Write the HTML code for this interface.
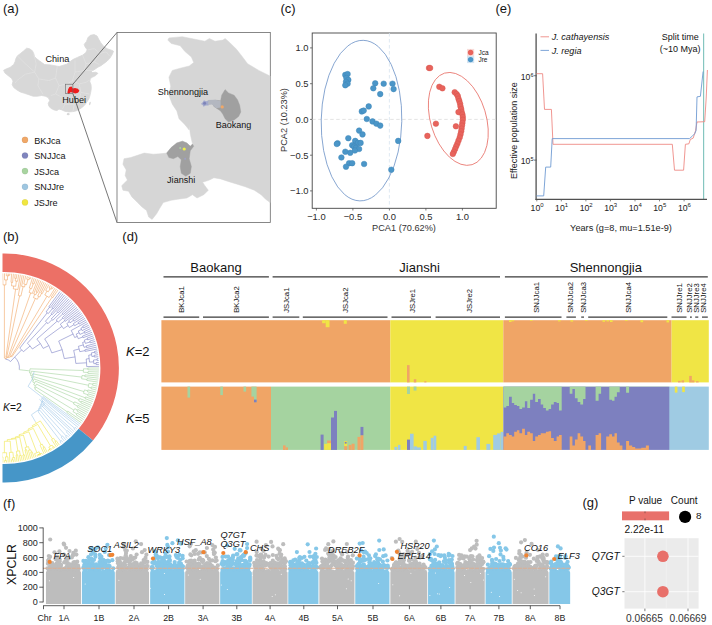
<!DOCTYPE html>
<html><head><meta charset="utf-8"><title>Figure</title>
<style>html,body{margin:0;padding:0;background:#fff}svg{display:block}text{font-family:"Liberation Sans",sans-serif}</style>
</head><body>
<svg width="712" height="625" viewBox="0 0 712 625">
<rect width="712" height="625" fill="#fff"/>
<text x="3.0" y="13.2" font-size="13" text-anchor="start" fill="#141414"  >(a)</text>
<text x="280.5" y="13.2" font-size="13" text-anchor="start" fill="#141414"  >(c)</text>
<text x="495.5" y="13.2" font-size="13" text-anchor="start" fill="#141414"  >(e)</text>
<text x="3.0" y="241.0" font-size="13" text-anchor="start" fill="#141414"  >(b)</text>
<text x="122.3" y="241.0" font-size="13" text-anchor="start" fill="#141414"  >(d)</text>
<text x="3.0" y="507.5" font-size="13" text-anchor="start" fill="#141414"  >(f)</text>
<text x="582.5" y="507.3" font-size="13" text-anchor="start" fill="#141414"  >(g)</text>
<clipPath id="cc"><polygon points="3.6,70.3 6.5,68.8 10.1,67.4 13.7,64.5 15.1,61.6 15.8,58.8 17.3,55.9 20.2,53.7 23.8,50.8 26.6,48.2 29.5,48.7 32.4,50.8 33.8,53.7 34.5,56.6 36.7,58.8 39.6,60.9 42.5,63.1 44.6,64.5 50.4,64.9 59.1,66.5 66.7,64.2 72.8,59.6 77.4,57.4 82.7,55.1 85.7,52.8 87.2,49.8 85.0,46.7 84.2,44.4 86.5,41.4 88.0,37.6 90.3,35.3 94.1,34.6 97.1,36.1 98.6,39.1 100.9,42.9 104.0,46.7 107.8,49.0 112.3,50.5 113.5,51.3 112.3,54.3 110.0,58.1 107.0,61.2 104.0,63.4 100.9,65.7 97.9,67.2 95.6,68.8 93.3,70.3 91.0,71.0 92.6,72.6 95.6,72.2 97.9,73.3 95.6,75.6 92.6,77.1 90.3,78.6 89.8,81.7 91.0,84.7 91.3,88.5 90.7,92.3 89.8,96.1 88.8,99.1 87.2,101.4 85.5,104.0 82.7,107.0 79.0,109.5 75.8,111.0 72.8,111.6 69.0,111.9 64.8,111.3 61.9,109.9 59.0,109.1 56.9,110.6 54.0,109.9 51.1,108.4 48.9,106.3 48.2,103.4 49.7,100.5 48.2,97.6 45.3,96.2 41.7,95.5 37.4,96.2 33.1,96.2 28.8,94.7 24.5,93.3 20.2,91.9 16.6,89.7 13.7,87.5 12.2,84.7 13.0,81.1 11.5,78.2 8.6,76.0 5.0,73.1"/></clipPath>
<polygon fill="#d8d8d8" stroke="#d8d8d8" stroke-width="0.8" stroke-linejoin="round" points="3.6,70.3 6.5,68.8 10.1,67.4 13.7,64.5 15.1,61.6 15.8,58.8 17.3,55.9 20.2,53.7 23.8,50.8 26.6,48.2 29.5,48.7 32.4,50.8 33.8,53.7 34.5,56.6 36.7,58.8 39.6,60.9 42.5,63.1 44.6,64.5 50.4,64.9 59.1,66.5 66.7,64.2 72.8,59.6 77.4,57.4 82.7,55.1 85.7,52.8 87.2,49.8 85.0,46.7 84.2,44.4 86.5,41.4 88.0,37.6 90.3,35.3 94.1,34.6 97.1,36.1 98.6,39.1 100.9,42.9 104.0,46.7 107.8,49.0 112.3,50.5 113.5,51.3 112.3,54.3 110.0,58.1 107.0,61.2 104.0,63.4 100.9,65.7 97.9,67.2 95.6,68.8 93.3,70.3 91.0,71.0 92.6,72.6 95.6,72.2 97.9,73.3 95.6,75.6 92.6,77.1 90.3,78.6 89.8,81.7 91.0,84.7 91.3,88.5 90.7,92.3 89.8,96.1 88.8,99.1 87.2,101.4 85.5,104.0 82.7,107.0 79.0,109.5 75.8,111.0 72.8,111.6 69.0,111.9 64.8,111.3 61.9,109.9 59.0,109.1 56.9,110.6 54.0,109.9 51.1,108.4 48.9,106.3 48.2,103.4 49.7,100.5 48.2,97.6 45.3,96.2 41.7,95.5 37.4,96.2 33.1,96.2 28.8,94.7 24.5,93.3 20.2,91.9 16.6,89.7 13.7,87.5 12.2,84.7 13.0,81.1 11.5,78.2 8.6,76.0 5.0,73.1"/>
<ellipse cx="68.2" cy="114.2" rx="1.5" ry="1.1" fill="#d8d8d8"/>
<ellipse cx="89.9" cy="103.4" rx="0.8" ry="1.8" fill="#d8d8d8" transform="rotate(15 89.9 103.4)"/>
<g clip-path="url(#cc)">
<polyline fill="none" stroke="#e9e9e9" stroke-width="0.45" points="33.7,54.4 36.2,63.7 34.6,72.1 38.8,78.9 37.9,85.6 43.0,94.4"/>
<polyline fill="none" stroke="#e9e9e9" stroke-width="0.45" points="34.6,72.1 25.3,74.2 16.9,80.6 15.2,83.1"/>
<polyline fill="none" stroke="#e9e9e9" stroke-width="0.45" points="38.8,78.9 48.9,80.6 55.6,78.0 57.3,66.2"/>
<polyline fill="none" stroke="#e9e9e9" stroke-width="0.45" points="55.6,78.0 59.0,85.6 55.6,94.0 50.6,95.7"/>
<polyline fill="none" stroke="#e9e9e9" stroke-width="0.45" points="59.0,85.6 67.4,83.9 72.5,80.6 75.0,72.1 75.0,60.3"/>
<polyline fill="none" stroke="#e9e9e9" stroke-width="0.45" points="72.5,80.6 79.2,83.9 86.0,82.3 94.4,77.2"/>
<polyline fill="none" stroke="#e9e9e9" stroke-width="0.45" points="79.2,83.9 80.9,92.4 79.2,100.8 74.2,104.2 72.5,114.3"/>
<polyline fill="none" stroke="#e9e9e9" stroke-width="0.45" points="80.9,92.4 89.3,94.0 98.6,94.0"/>
<polyline fill="none" stroke="#e9e9e9" stroke-width="0.45" points="79.2,100.8 87.6,102.5 91.0,105.0"/>
<polyline fill="none" stroke="#e9e9e9" stroke-width="0.45" points="55.6,94.0 62.4,97.4 64.9,104.2 62.4,109.2"/>
<polyline fill="none" stroke="#e9e9e9" stroke-width="0.45" points="64.9,104.2 74.2,104.2"/>
<polyline fill="none" stroke="#e9e9e9" stroke-width="0.45" points="75.0,72.1 84.3,70.5 92.7,70.5"/>
<polyline fill="none" stroke="#e9e9e9" stroke-width="0.45" points="84.3,70.5 86.0,63.7 94.4,62.0 99.4,64.6"/>
<polyline fill="none" stroke="#e9e9e9" stroke-width="0.45" points="86.0,63.7 82.6,55.3"/>
<polyline fill="none" stroke="#e9e9e9" stroke-width="0.45" points="94.4,62.0 99.4,53.6 106.2,51.9 109.6,56.1"/>
<polyline fill="none" stroke="#e9e9e9" stroke-width="0.45" points="99.4,53.6 94.4,48.5 87.6,49.9"/>
<polyline fill="none" stroke="#e9e9e9" stroke-width="0.45" points="16.9,55.3 25.3,63.7 34.6,72.1"/>
</g>
<polygon fill="#ee1c1c" points="67.4,92.7 68.1,89.3 69.4,87.0 71.6,86.5 72.8,88.5 75.0,88.0 77.9,88.8 79.4,90.7 78.0,92.7 75.2,93.5 72.5,92.5 70.5,92.2 68.8,93.9"/>
<rect x="65.3" y="84.2" width="7.6" height="9.3" fill="none" stroke="#666" stroke-width="0.6"/>
<line x1="72.9" y1="84.2" x2="117" y2="32.5" stroke="#4a4a4a" stroke-width="0.75"/>
<line x1="72.9" y1="93.5" x2="117" y2="222.5" stroke="#4a4a4a" stroke-width="0.75"/>
<text x="45.5" y="62.0" font-size="9.1" text-anchor="start" fill="#141414"  >China</text>
<text x="62.3" y="102.8" font-size="9.1" text-anchor="start" fill="#141414"  >Hubei</text>
<rect x="117" y="32.5" width="153.3" height="190" fill="#fff" stroke="#6a6a6a" stroke-width="0.8"/>
<polygon fill="#d6d6d6" stroke="#d6d6d6" stroke-width="0.5" stroke-linejoin="round" points="167.8,40.1 168.9,37.9 182.4,36.7 193.7,39.0 204.9,41.2 209.4,38.5 215.0,41.2 222.9,40.1 225.1,38.5 229.6,42.4 236.3,49.1 240.8,54.7 247.6,63.7 258.8,70.4 270.1,76.1 270.1,202.5 265.6,199.2 261.1,194.7 254.3,190.2 245.3,186.8 236.3,183.9 227.4,181.2 220.6,178.9 213.9,177.8 209.4,180.1 202.6,182.3 204.9,185.7 208.3,190.2 203.8,194.7 197.0,198.0 192.5,194.7 186.9,198.0 177.9,199.2 171.2,200.3 163.3,202.5 159.9,208.1 156.6,213.8 152.1,219.4 148.7,217.1 146.5,210.4 142.0,207.0 137.5,202.5 131.9,196.9 128.5,191.3 122.9,190.2 121.7,185.7 127.4,180.1 125.1,175.6 126.2,169.9 122.9,164.3 124.0,158.7 130.7,157.6 137.5,155.3 144.2,153.1 153.2,154.2 159.9,153.8 166.7,153.1 171.2,147.5 176.8,143.0 182.4,141.2 186.9,143.0 190.3,146.3 192.5,144.1 190.3,134.0 189.2,125.0 189.2,130.0 184.7,124.4 179.0,118.8 176.8,110.9 172.3,104.2 168.9,95.2 170.7,86.2 168.9,77.2 172.3,70.4 180.2,68.2 189.2,66.0 193.7,62.6 191.4,57.0 184.7,51.3 180.2,45.7 171.2,43.5"/>
<polygon fill="#a0a0a0" stroke="#a0a0a0" stroke-width="0.4" stroke-linejoin="round" points="166.7,153.1 171.2,147.5 176.8,143.0 182.4,141.2 186.9,143.0 190.3,146.3 192.5,144.1 193.7,146.3 190.3,150.8 189.2,158.7 191.4,166.6 190.3,173.3 185.8,176.2 181.3,173.3 180.2,166.6 181.3,159.8 177.9,156.5 173.4,158.7 168.9,157.6"/>
<polygon fill="#a0a0a0" stroke="#a0a0a0" stroke-width="0.4" stroke-linejoin="round" points="221.7,95.2 225.1,89.6 228.5,92.9 234.1,95.2 237.5,99.7 239.7,105.3 240.8,112.0 238.6,116.5 234.1,119.9 228.5,122.1 225.1,118.8 222.9,114.3 220.6,110.9 217.2,108.7 213.9,106.4 211.6,101.9 215.0,100.1 220.6,100.8"/>
<polygon fill="#b3b7c0" points="207.6,100.1 215.0,99.7 220.6,101.0 220.6,107.5 216.1,108.2 212.1,104.6 208.0,105.1"/>
<path d="M200.9,104.1 L202.7,102.3 L203.9,100.3 L206.1,101.3 L208.5,100.9 L207.9,103.3 L208.7,105.5 L205.9,105.5 L203.5,106.7 L202.7,105.1 Z" fill="#a2a9cc"/>
<circle cx="204.6" cy="103.2" r="1.5" fill="#7d83b8"/>
<circle cx="222.2" cy="106.9" r="1.6" fill="#f0a868"/>
<circle cx="184.2" cy="149.0" r="1.6" fill="#eef04a"/>
<circle cx="180.2" cy="148.1" r="1.0" fill="#a9cfa4"/>
<circle cx="185.1" cy="158.7" r="1.0" fill="#9ea0c4"/>
<text x="157.7" y="95.2" font-size="9.05" text-anchor="start" fill="#141414"  >Shennongjia</text>
<text x="215.7" y="128.4" font-size="9.05" text-anchor="start" fill="#141414"  >Baokang</text>
<text x="167.1" y="183.0" font-size="9.05" text-anchor="start" fill="#141414"  >Jianshi</text>
<circle cx="25" cy="139.9" r="3.1" fill="#f0a868" stroke="#00000018" stroke-width="0.5"/>
<text x="34.3" y="143.5" font-size="9.1" text-anchor="start" fill="#141414"  >BKJca</text>
<circle cx="25" cy="155.5" r="3.1" fill="#8085be" stroke="#00000018" stroke-width="0.5"/>
<text x="34.3" y="159.1" font-size="9.1" text-anchor="start" fill="#141414"  >SNJJca</text>
<circle cx="25" cy="171.1" r="3.1" fill="#a8d4a0" stroke="#00000018" stroke-width="0.5"/>
<text x="34.3" y="174.7" font-size="9.1" text-anchor="start" fill="#141414"  >JSJca</text>
<circle cx="25" cy="186.8" r="3.1" fill="#9ec6e0" stroke="#00000018" stroke-width="0.5"/>
<text x="34.3" y="190.4" font-size="9.1" text-anchor="start" fill="#141414"  >SNJJre</text>
<circle cx="25" cy="202.4" r="3.1" fill="#f0e640" stroke="#00000018" stroke-width="0.5"/>
<text x="34.3" y="206.0" font-size="9.1" text-anchor="start" fill="#141414"  >JSJre</text>
<rect x="312.2" y="33" width="184" height="175.3" fill="#fff" stroke="#444" stroke-width="0.9"/>
<line x1="312.2" x2="496.2" y1="119.4" y2="119.4" stroke="#dcdcdc" stroke-width="0.8" stroke-dasharray="3.5 2.5"/>
<line y1="33" y2="208.3" x1="389.4" x2="389.4" stroke="#d8e4f0" stroke-width="0.8" stroke-dasharray="3.5 2.5"/>
<ellipse cx="361.5" cy="120.6" rx="40.3" ry="80.3" fill="none" stroke="#6a90c6" stroke-width="0.8" transform="rotate(1.2 361.5 120.6)"/>
<ellipse cx="458.3" cy="118.9" rx="27.8" ry="47.8" fill="none" stroke="#e8746c" stroke-width="0.8" transform="rotate(-16.8 458.3 118.9)"/>
<circle cx="345.3" cy="74.9" r="2.8" fill="#4b96c8" stroke="#3f86b8" stroke-width="0.5"/>
<circle cx="347.6" cy="74.1" r="2.8" fill="#4b96c8" stroke="#3f86b8" stroke-width="0.5"/>
<circle cx="346.4" cy="78.0" r="2.8" fill="#4b96c8" stroke="#3f86b8" stroke-width="0.5"/>
<circle cx="348.3" cy="79.9" r="2.8" fill="#4b96c8" stroke="#3f86b8" stroke-width="0.5"/>
<circle cx="346.0" cy="81.8" r="2.8" fill="#4b96c8" stroke="#3f86b8" stroke-width="0.5"/>
<circle cx="347.6" cy="83.7" r="2.8" fill="#4b96c8" stroke="#3f86b8" stroke-width="0.5"/>
<circle cx="345.3" cy="85.3" r="2.8" fill="#4b96c8" stroke="#3f86b8" stroke-width="0.5"/>
<circle cx="375.2" cy="83.3" r="2.8" fill="#4b96c8" stroke="#3f86b8" stroke-width="0.5"/>
<circle cx="383.7" cy="83.7" r="2.8" fill="#4b96c8" stroke="#3f86b8" stroke-width="0.5"/>
<circle cx="392.5" cy="83.7" r="2.8" fill="#4b96c8" stroke="#3f86b8" stroke-width="0.5"/>
<circle cx="373.3" cy="88.3" r="2.8" fill="#4b96c8" stroke="#3f86b8" stroke-width="0.5"/>
<circle cx="393.6" cy="89.1" r="2.8" fill="#4b96c8" stroke="#3f86b8" stroke-width="0.5"/>
<circle cx="380.2" cy="94.1" r="2.8" fill="#4b96c8" stroke="#3f86b8" stroke-width="0.5"/>
<circle cx="368.7" cy="106.4" r="2.8" fill="#4b96c8" stroke="#3f86b8" stroke-width="0.5"/>
<circle cx="361.8" cy="111.4" r="2.8" fill="#4b96c8" stroke="#3f86b8" stroke-width="0.5"/>
<circle cx="363.7" cy="110.6" r="2.8" fill="#4b96c8" stroke="#3f86b8" stroke-width="0.5"/>
<circle cx="366.8" cy="119.0" r="2.8" fill="#4b96c8" stroke="#3f86b8" stroke-width="0.5"/>
<circle cx="372.5" cy="121.4" r="2.8" fill="#4b96c8" stroke="#3f86b8" stroke-width="0.5"/>
<circle cx="376.4" cy="123.7" r="2.8" fill="#4b96c8" stroke="#3f86b8" stroke-width="0.5"/>
<circle cx="380.2" cy="125.6" r="2.8" fill="#4b96c8" stroke="#3f86b8" stroke-width="0.5"/>
<circle cx="359.1" cy="130.6" r="2.8" fill="#4b96c8" stroke="#3f86b8" stroke-width="0.5"/>
<circle cx="362.5" cy="134.4" r="2.8" fill="#4b96c8" stroke="#3f86b8" stroke-width="0.5"/>
<circle cx="348.3" cy="138.2" r="2.8" fill="#4b96c8" stroke="#3f86b8" stroke-width="0.5"/>
<circle cx="355.2" cy="140.9" r="2.8" fill="#4b96c8" stroke="#3f86b8" stroke-width="0.5"/>
<circle cx="357.9" cy="142.9" r="2.8" fill="#4b96c8" stroke="#3f86b8" stroke-width="0.5"/>
<circle cx="360.6" cy="142.9" r="2.8" fill="#4b96c8" stroke="#3f86b8" stroke-width="0.5"/>
<circle cx="352.2" cy="145.2" r="2.8" fill="#4b96c8" stroke="#3f86b8" stroke-width="0.5"/>
<circle cx="354.1" cy="146.7" r="2.8" fill="#4b96c8" stroke="#3f86b8" stroke-width="0.5"/>
<circle cx="356.0" cy="147.8" r="2.8" fill="#4b96c8" stroke="#3f86b8" stroke-width="0.5"/>
<circle cx="359.1" cy="149.0" r="2.8" fill="#4b96c8" stroke="#3f86b8" stroke-width="0.5"/>
<circle cx="354.9" cy="150.5" r="2.8" fill="#4b96c8" stroke="#3f86b8" stroke-width="0.5"/>
<circle cx="350.2" cy="152.8" r="2.8" fill="#4b96c8" stroke="#3f86b8" stroke-width="0.5"/>
<circle cx="345.3" cy="151.7" r="2.8" fill="#4b96c8" stroke="#3f86b8" stroke-width="0.5"/>
<circle cx="337.6" cy="143.2" r="2.8" fill="#4b96c8" stroke="#3f86b8" stroke-width="0.5"/>
<circle cx="336.8" cy="144.0" r="2.8" fill="#4b96c8" stroke="#3f86b8" stroke-width="0.5"/>
<circle cx="341.4" cy="157.5" r="2.8" fill="#4b96c8" stroke="#3f86b8" stroke-width="0.5"/>
<circle cx="349.1" cy="163.2" r="2.8" fill="#4b96c8" stroke="#3f86b8" stroke-width="0.5"/>
<circle cx="352.2" cy="163.2" r="2.8" fill="#4b96c8" stroke="#3f86b8" stroke-width="0.5"/>
<circle cx="346.0" cy="166.7" r="2.8" fill="#4b96c8" stroke="#3f86b8" stroke-width="0.5"/>
<circle cx="364.1" cy="164.0" r="2.8" fill="#4b96c8" stroke="#3f86b8" stroke-width="0.5"/>
<circle cx="398.2" cy="140.9" r="2.8" fill="#4b96c8" stroke="#3f86b8" stroke-width="0.5"/>
<circle cx="391.3" cy="169.7" r="2.8" fill="#4b96c8" stroke="#3f86b8" stroke-width="0.5"/>
<circle cx="429.0" cy="68.0" r="2.8" fill="#e8635c" stroke="#d9564f" stroke-width="0.5"/>
<circle cx="430.1" cy="68.0" r="2.8" fill="#e8635c" stroke="#d9564f" stroke-width="0.5"/>
<circle cx="439.3" cy="86.8" r="2.8" fill="#e8635c" stroke="#d9564f" stroke-width="0.5"/>
<circle cx="442.4" cy="88.3" r="2.8" fill="#e8635c" stroke="#d9564f" stroke-width="0.5"/>
<circle cx="454.7" cy="92.2" r="2.8" fill="#e8635c" stroke="#d9564f" stroke-width="0.5"/>
<circle cx="456.6" cy="94.1" r="2.8" fill="#e8635c" stroke="#d9564f" stroke-width="0.5"/>
<circle cx="457.8" cy="96.0" r="2.8" fill="#e8635c" stroke="#d9564f" stroke-width="0.5"/>
<circle cx="458.5" cy="98.7" r="2.8" fill="#e8635c" stroke="#d9564f" stroke-width="0.5"/>
<circle cx="459.3" cy="101.0" r="2.8" fill="#e8635c" stroke="#d9564f" stroke-width="0.5"/>
<circle cx="460.1" cy="103.7" r="2.8" fill="#e8635c" stroke="#d9564f" stroke-width="0.5"/>
<circle cx="460.5" cy="106.4" r="2.8" fill="#e8635c" stroke="#d9564f" stroke-width="0.5"/>
<circle cx="461.2" cy="109.1" r="2.8" fill="#e8635c" stroke="#d9564f" stroke-width="0.5"/>
<circle cx="461.6" cy="111.8" r="2.8" fill="#e8635c" stroke="#d9564f" stroke-width="0.5"/>
<circle cx="458.5" cy="112.1" r="2.8" fill="#e8635c" stroke="#d9564f" stroke-width="0.5"/>
<circle cx="462.4" cy="114.4" r="2.8" fill="#e8635c" stroke="#d9564f" stroke-width="0.5"/>
<circle cx="462.8" cy="117.1" r="2.8" fill="#e8635c" stroke="#d9564f" stroke-width="0.5"/>
<circle cx="462.8" cy="119.8" r="2.8" fill="#e8635c" stroke="#d9564f" stroke-width="0.5"/>
<circle cx="462.4" cy="122.9" r="2.8" fill="#e8635c" stroke="#d9564f" stroke-width="0.5"/>
<circle cx="462.0" cy="125.6" r="2.8" fill="#e8635c" stroke="#d9564f" stroke-width="0.5"/>
<circle cx="461.6" cy="128.6" r="2.8" fill="#e8635c" stroke="#d9564f" stroke-width="0.5"/>
<circle cx="461.2" cy="131.3" r="2.8" fill="#e8635c" stroke="#d9564f" stroke-width="0.5"/>
<circle cx="460.5" cy="134.4" r="2.8" fill="#e8635c" stroke="#d9564f" stroke-width="0.5"/>
<circle cx="459.7" cy="137.5" r="2.8" fill="#e8635c" stroke="#d9564f" stroke-width="0.5"/>
<circle cx="458.5" cy="140.6" r="2.8" fill="#e8635c" stroke="#d9564f" stroke-width="0.5"/>
<circle cx="457.4" cy="143.6" r="2.8" fill="#e8635c" stroke="#d9564f" stroke-width="0.5"/>
<circle cx="456.2" cy="146.3" r="2.8" fill="#e8635c" stroke="#d9564f" stroke-width="0.5"/>
<circle cx="455.1" cy="149.0" r="2.8" fill="#e8635c" stroke="#d9564f" stroke-width="0.5"/>
<circle cx="453.9" cy="151.7" r="2.8" fill="#e8635c" stroke="#d9564f" stroke-width="0.5"/>
<circle cx="452.8" cy="154.0" r="2.8" fill="#e8635c" stroke="#d9564f" stroke-width="0.5"/>
<circle cx="435.9" cy="123.7" r="2.8" fill="#e8635c" stroke="#d9564f" stroke-width="0.5"/>
<circle cx="427.4" cy="135.9" r="2.8" fill="#e8635c" stroke="#d9564f" stroke-width="0.5"/>
<circle cx="455.9" cy="126.3" r="2.8" fill="#e8635c" stroke="#d9564f" stroke-width="0.5"/>
<line x1="310" x2="312.2" y1="47.9" y2="47.9" stroke="#444" stroke-width="0.7"/>
<text x="308.6" y="51.2" font-size="9.4" text-anchor="end" fill="#2a2a2a"  >1.0</text>
<line y1="208.3" y2="210.5" x1="462.4" x2="462.4" stroke="#444" stroke-width="0.7"/>
<text x="462.4" y="220.2" font-size="9.4" text-anchor="middle" fill="#2a2a2a"  >1.0</text>
<line x1="310" x2="312.2" y1="83.7" y2="83.7" stroke="#444" stroke-width="0.7"/>
<text x="308.6" y="87.0" font-size="9.4" text-anchor="end" fill="#2a2a2a"  >0.5</text>
<line y1="208.3" y2="210.5" x1="425.9" x2="425.9" stroke="#444" stroke-width="0.7"/>
<text x="425.9" y="220.2" font-size="9.4" text-anchor="middle" fill="#2a2a2a"  >0.5</text>
<line x1="310" x2="312.2" y1="119.4" y2="119.4" stroke="#444" stroke-width="0.7"/>
<text x="308.6" y="122.7" font-size="9.4" text-anchor="end" fill="#2a2a2a"  >0.0</text>
<line y1="208.3" y2="210.5" x1="389.4" x2="389.4" stroke="#444" stroke-width="0.7"/>
<text x="389.4" y="220.2" font-size="9.4" text-anchor="middle" fill="#2a2a2a"  >0.0</text>
<line x1="310" x2="312.2" y1="155.2" y2="155.2" stroke="#444" stroke-width="0.7"/>
<text x="308.6" y="158.5" font-size="9.4" text-anchor="end" fill="#2a2a2a"  >−0.5</text>
<line y1="208.3" y2="210.5" x1="352.9" x2="352.9" stroke="#444" stroke-width="0.7"/>
<text x="352.9" y="220.2" font-size="9.4" text-anchor="middle" fill="#2a2a2a"  >−0.5</text>
<line x1="310" x2="312.2" y1="190.9" y2="190.9" stroke="#444" stroke-width="0.7"/>
<text x="308.6" y="194.2" font-size="9.4" text-anchor="end" fill="#2a2a2a"  >−1.0</text>
<line y1="208.3" y2="210.5" x1="316.4" x2="316.4" stroke="#444" stroke-width="0.7"/>
<text x="316.4" y="220.2" font-size="9.4" text-anchor="middle" fill="#2a2a2a"  >−1.0</text>
<text x="404.0" y="231.0" font-size="9.2" text-anchor="middle" fill="#333"  >PCA1 (70.62%)</text>
<text x="0.0" y="0.0" font-size="9.2" text-anchor="middle" fill="#333"  transform="translate(286.6 120) rotate(-90)">PCA2 (10.23%)</text>
<rect x="467" y="48.9" width="7.2" height="7.1" fill="#f7dcd9"/><rect x="467" y="56" width="7.2" height="7.1" fill="#d5e4f1"/>
<circle cx="470.6" cy="52.5" r="2.7" fill="#e8635c"/><circle cx="470.6" cy="59.6" r="2.7" fill="#4b96c8"/>
<text x="478.4" y="55.0" font-size="6.5" text-anchor="start" fill="#141414"  >Jca</text>
<text x="478.4" y="62.2" font-size="6.5" text-anchor="start" fill="#141414"  >Jre</text>
<line x1="703.6" x2="703.6" y1="33.5" y2="199.8" stroke="#86c6c0" stroke-width="1.2"/>
<line x1="536.1" x2="536.1" y1="33.5" y2="200" stroke="#505050" stroke-width="1.3"/>
<line x1="535.5" x2="707" y1="199.4" y2="199.4" stroke="#505050" stroke-width="1.3"/>
<polyline fill="none" stroke="#ee8a84" stroke-width="0.9" points="536.5,73.7 542.6,73.7 544.5,109.4 551.4,109.4 553,144.3 672.3,144.3 674.5,170.2 683.6,170.2 685.4,144.3 688.9,143.8 690.3,139.5 693.2,138.1 695.5,130.9 697,122 704.7,121.7 706.2,98 707.4,70"/>
<polyline fill="none" stroke="#6f9bd2" stroke-width="0.9" points="536.5,195.9 543.7,195.9 545.7,167.1 550.7,167.1 552.2,138.6 689.5,138.6 691.8,136.6 694.7,133.7 696.1,130.5 697,96.9 700.4,96.3 703.1,71.5"/>
<line x1="536.8" x2="536.8" y1="199.4" y2="201.4" stroke="#555" stroke-width="0.7"/>
<text x="537.1" y="210.5" font-size="8.7" text-anchor="middle" fill="#222">10<tspan dy="-3.4" font-size="6">0</tspan></text>
<line x1="561.3" x2="561.3" y1="199.4" y2="201.4" stroke="#555" stroke-width="0.7"/>
<text x="561.6" y="210.5" font-size="8.7" text-anchor="middle" fill="#222">10<tspan dy="-3.4" font-size="6">1</tspan></text>
<line x1="585.9" x2="585.9" y1="199.4" y2="201.4" stroke="#555" stroke-width="0.7"/>
<text x="586.2" y="210.5" font-size="8.7" text-anchor="middle" fill="#222">10<tspan dy="-3.4" font-size="6">2</tspan></text>
<line x1="610.4" x2="610.4" y1="199.4" y2="201.4" stroke="#555" stroke-width="0.7"/>
<text x="610.7" y="210.5" font-size="8.7" text-anchor="middle" fill="#222">10<tspan dy="-3.4" font-size="6">3</tspan></text>
<line x1="635.0" x2="635.0" y1="199.4" y2="201.4" stroke="#555" stroke-width="0.7"/>
<text x="635.3" y="210.5" font-size="8.7" text-anchor="middle" fill="#222">10<tspan dy="-3.4" font-size="6">4</tspan></text>
<line x1="659.5" x2="659.5" y1="199.4" y2="201.4" stroke="#555" stroke-width="0.7"/>
<text x="659.8" y="210.5" font-size="8.7" text-anchor="middle" fill="#222">10<tspan dy="-3.4" font-size="6">5</tspan></text>
<line x1="684.1" x2="684.1" y1="199.4" y2="201.4" stroke="#555" stroke-width="0.7"/>
<text x="684.4" y="210.5" font-size="8.7" text-anchor="middle" fill="#222">10<tspan dy="-3.4" font-size="6">6</tspan></text>
<line x1="534" x2="536.5" y1="75.7" y2="75.7" stroke="#444" stroke-width="0.7"/>
<text x="533.5" y="79.8" font-size="8.6" text-anchor="end" fill="#222">10<tspan dy="-3.2" font-size="5.6">6</tspan></text>
<line x1="534" x2="536.5" y1="160.1" y2="160.1" stroke="#444" stroke-width="0.7"/>
<text x="533.5" y="164.2" font-size="8.6" text-anchor="end" fill="#222">10<tspan dy="-3.2" font-size="5.6">5</tspan></text>
<text x="0.0" y="0.0" font-size="9" text-anchor="middle" fill="#222"  transform="translate(516.6 130.6) rotate(-90)">Effective population size</text>
<text x="621.0" y="231.3" font-size="9.2" text-anchor="middle" fill="#222"  >Years (g=8, mu=1.51e-9)</text>
<line x1="540.5" x2="549" y1="36.8" y2="36.8" stroke="#ee8a84" stroke-width="0.9"/>
<line x1="540.5" x2="549" y1="50.4" y2="50.4" stroke="#6f9bd2" stroke-width="0.9"/>
<text x="551.7" y="39.9" font-size="9.1" text-anchor="start" fill="#141414" font-style="italic" >J. cathayensis</text>
<text x="551.7" y="53.7" font-size="9.1" text-anchor="start" fill="#141414" font-style="italic" >J. regia</text>
<text x="680.2" y="39.9" font-size="9" text-anchor="middle" fill="#141414"  >Split time</text>
<text x="680.2" y="52.1" font-size="9" text-anchor="middle" fill="#141414"  >(~10 Mya)</text>
<clipPath id="cb"><rect x="2.5" y="248" width="130" height="240"/></clipPath><g clip-path="url(#cb)">
<path d="M-5.58,253.94 A114.5,114.5 0 0 1 93.00,440.52 L78.69,428.80 A96,96 0 0 0 -3.97,272.37 Z" fill="#ec7066"/>
<path d="M93.00,440.52 A114.5,114.5 0 0 1 -5.58,482.06 L-3.97,463.63 A96,96 0 0 0 78.69,428.80 Z" fill="#4696c8"/>
<path d="M2.9,284.9L2.7,273.4M4.5,279.9L4.5,273.4M6.3,275.7L6.3,273.4M8.0,275.0L8.1,273.5M9.8,275.1L9.9,273.6M8.0,275.0A93.1,93.1 0 0 1 9.8,275.1M8.9,275.8L8.9,275.0M6.3,275.7A92.3,92.3 0 0 1 8.9,275.8M7.4,280.0L7.6,275.7M4.5,279.9A88.1,88.1 0 0 1 7.4,280.0M5.9,284.9L6.0,279.9M2.9,284.9A83.1,83.1 0 0 1 5.9,284.9M4.4,358.1L4.4,284.9M11.0,282.3L11.6,273.7M12.6,282.5L13.4,273.8M11.0,282.3A85.9,85.9 0 0 1 12.6,282.5M11.5,285.8L11.8,282.4M14.7,278.3L15.2,274.0M16.3,278.5L16.9,274.2M14.7,278.3A90.3,90.3 0 0 1 16.3,278.5M15.2,281.0L15.5,278.4M17.6,281.3L18.7,274.5M15.2,281.0A87.7,87.7 0 0 1 17.6,281.3M15.7,286.3L16.4,281.1M11.5,285.8A82.5,82.5 0 0 1 15.7,286.3M13.3,288.9L13.6,286.0M17.9,289.5L20.4,274.8M13.3,288.9A79.6,79.6 0 0 1 17.9,289.5M5.9,357.1L15.6,289.2M18.3,295.5L22.2,275.1M21.6,286.3L23.9,275.4M23.8,284.0L25.7,275.8M26.7,279.2L27.4,276.2M28.7,278.1L29.1,276.7M30.4,278.6L30.8,277.2M28.7,278.1A93.1,93.1 0 0 1 30.4,278.6M29.1,279.8L29.6,278.4M26.7,279.2A91.6,91.6 0 0 1 29.1,279.8M26.5,284.7L27.9,279.5M23.8,284.0A86.2,86.2 0 0 1 26.5,284.7M24.5,287.0L25.2,284.3M21.6,286.3A83.5,83.5 0 0 1 24.5,287.0M20.9,296.1L23.1,286.6M18.3,295.5A73.8,73.8 0 0 1 20.9,296.1M6.8,356.7L19.6,295.8M29.3,288.0L32.5,277.7M32.4,283.5L34.2,278.2M34.0,284.0L35.9,278.8M32.4,283.5A89.0,89.0 0 0 1 34.0,284.0M31.5,288.8L33.2,283.8M29.3,288.0A83.7,83.7 0 0 1 31.5,288.8M29.1,292.4L30.4,288.4M32.3,293.5L37.6,279.4M29.1,292.4A79.5,79.5 0 0 1 32.3,293.5M8.4,356.5L30.7,292.9M33.7,294.0L39.2,280.0M36.2,291.8L40.9,280.7M37.6,292.4L42.5,281.4M36.2,291.8A82.6,82.6 0 0 1 37.6,292.4M35.8,294.8L36.9,292.1M33.7,294.0A79.6,79.6 0 0 1 35.8,294.8M33.4,297.6L34.7,294.4M37.7,296.1L44.1,282.1M40.8,293.0L45.7,282.9M42.2,293.7L47.3,283.7M40.8,293.0A83.3,83.3 0 0 1 42.2,293.7M39.7,297.0L41.5,293.4M37.7,296.1A79.2,79.2 0 0 1 39.7,297.0M37.3,299.3L38.7,296.6M33.4,297.6A76.2,76.2 0 0 1 37.3,299.3M9.8,355.8L35.4,298.4M45.7,290.4L48.9,284.5M49.0,288.0L50.4,285.4M51.2,287.5L52.0,286.2M52.7,288.4L53.5,287.1M51.2,287.5A93.1,93.1 0 0 1 52.7,288.4M51.2,289.3L52.0,288.0M49.0,288.0A91.6,91.6 0 0 1 51.2,289.3M48.3,291.8L50.1,288.6M45.7,290.4A87.9,87.9 0 0 1 48.3,291.8M44.8,295.0L47.0,291.1M49.1,297.5L55.0,288.1M44.8,295.0A83.5,83.5 0 0 1 49.1,297.5M11.4,356.1L47.0,296.2M51.4,296.8L56.5,289.0M52.7,297.7L58.0,290.0M51.4,296.8A85.3,85.3 0 0 1 52.7,297.7M12.1,356.6L52.0,297.3M11.4,356.1A13.8,13.8 0 0 1 12.1,356.6M11.5,356.7L11.8,356.4M9.8,355.8A13.3,13.3 0 0 1 11.5,356.7M10.1,357.3L10.7,356.2M8.4,356.5A12.2,12.2 0 0 1 10.1,357.3M9.0,357.5L9.3,356.9M6.8,356.7A11.5,11.5 0 0 1 9.0,357.5M7.8,357.5L7.9,357.0M5.9,357.1A11.0,11.0 0 0 1 7.8,357.5M6.6,358.4L6.9,357.3M4.4,358.1A9.9,9.9 0 0 1 6.6,358.4M5.4,359.1L5.5,358.2" fill="none" stroke="#f2a665" stroke-width="0.6"/>
<path d="M48.9,306.7L60.0,291.5M50.2,307.6L61.6,292.6M48.9,306.7A75.8,75.8 0 0 1 50.2,307.6M46.1,311.9L49.6,307.1M51.8,308.1L63.1,293.8M53.0,309.1L64.6,295.0M51.8,308.1A76.3,76.3 0 0 1 53.0,309.1M48.3,313.6L52.4,308.6M46.1,311.9A69.9,69.9 0 0 1 48.3,313.6M19.8,348.2L47.2,312.8M51.1,313.7L66.1,296.3M52.2,314.7L67.6,297.6M51.1,313.7A71.6,71.6 0 0 1 52.2,314.7M45.4,321.3L51.7,314.2M57.1,311.6L69.0,298.9M58.2,312.7L70.4,300.2M57.1,311.6A77.1,77.1 0 0 1 58.2,312.7M51.3,318.9L57.6,312.2M52.8,320.3L71.8,301.6M51.3,318.9A67.9,67.9 0 0 1 52.8,320.3M48.0,323.7L52.0,319.6M45.4,321.3A62.1,62.1 0 0 1 48.0,323.7M27.4,343.2L46.7,322.5M62.3,313.3L73.1,303.0M63.4,314.5L74.5,304.4M62.3,313.3A79.6,79.6 0 0 1 63.4,314.5M56.2,320.0L62.8,313.9M62.4,317.5L75.7,305.9M63.5,318.7L77.0,307.4M62.4,317.5A76.9,76.9 0 0 1 63.5,318.7M58.1,322.2L62.9,318.1M56.2,320.0A70.6,70.6 0 0 1 58.1,322.2M36.9,339.1L57.2,321.1M64.3,320.0L78.2,308.9M65.3,321.3L79.4,310.4M64.3,320.0A76.7,76.7 0 0 1 65.3,321.3M60.3,324.2L64.8,320.7M68.6,320.8L80.6,312.0M72.9,319.7L81.7,313.5M73.9,321.2L82.8,315.1M72.9,319.7A83.8,83.8 0 0 1 73.9,321.2M70.0,322.8L73.4,320.4M68.6,320.8A79.6,79.6 0 0 1 70.0,322.8M66.8,323.6L69.3,321.8M73.4,323.6L83.9,316.8M78.1,322.6L85.0,318.4M79.0,324.1L86.0,320.1M78.1,322.6A86.6,86.6 0 0 1 79.0,324.1M74.7,325.7L78.6,323.4M73.4,323.6A82.1,82.1 0 0 1 74.7,325.7M69.4,327.5L74.0,324.6M66.8,323.6A76.6,76.6 0 0 1 69.4,327.5M63.5,328.6L68.1,325.5M60.3,324.2A71.0,71.0 0 0 1 63.5,328.6M44.7,338.9L61.9,326.4M71.2,330.5L86.9,321.8M82.7,326.2L87.9,323.5M83.6,327.8L88.8,325.2M82.7,326.2A88.8,88.8 0 0 1 83.6,327.8M80.9,328.2L83.1,327.0M82.1,330.6L89.6,326.9M80.9,328.2A86.3,86.3 0 0 1 82.1,330.6M78.3,331.0L81.5,329.4M84.0,331.7L90.4,328.7M84.7,333.3L91.2,330.5M84.0,331.7A87.5,87.5 0 0 1 84.7,333.3M79.9,334.4L84.3,332.5M78.3,331.0A82.7,82.7 0 0 1 79.9,334.4M76.2,334.1L79.1,332.7M82.5,336.1L92.0,332.3M83.2,337.7L92.7,334.1M82.5,336.1A84.4,84.4 0 0 1 83.2,337.7M78.3,338.7L82.9,336.9M76.2,334.1A79.5,79.5 0 0 1 78.3,338.7M74.7,337.5L77.3,336.4M71.2,330.5A76.6,76.6 0 0 1 74.7,337.5M58.7,341.1L73.1,334.0M87.1,338.2L93.4,335.9M87.7,339.9L94.0,337.7M87.1,338.2A87.9,87.9 0 0 1 87.7,339.9M84.3,340.1L87.4,339.0M89.8,341.1L94.6,339.6M90.4,342.8L95.2,341.4M89.8,341.1A89.6,89.6 0 0 1 90.4,342.8M85.4,343.4L90.1,342.0M84.3,340.1A84.6,84.6 0 0 1 85.4,343.4M82.6,342.5L84.8,341.7M86.2,345.9L95.7,343.3M86.6,347.6L96.2,345.2M86.2,345.9A84.7,84.7 0 0 1 86.6,347.6M84.0,347.3L86.4,346.7M82.6,342.5A82.2,82.2 0 0 1 84.0,347.3M78.4,346.3L83.3,344.9M84.9,349.8L96.7,347.1M85.2,351.4L97.1,349.0M84.9,349.8A82.5,82.5 0 0 1 85.2,351.4M79.8,351.7L85.1,350.6M78.4,346.3A77.1,77.1 0 0 1 79.8,351.7M73.7,350.4L79.1,349.0M94.5,351.4L97.4,350.9M94.9,353.3L97.8,352.8M94.5,351.4A91.7,91.7 0 0 1 94.9,353.3M91.3,352.9L94.7,352.3M94.1,355.3L98.1,354.7M94.4,357.1L98.3,356.7M94.1,355.3A90.6,90.6 0 0 1 94.4,357.1M91.9,356.5L94.3,356.2M91.3,352.9A88.2,88.2 0 0 1 91.9,356.5M88.7,355.2L91.6,354.7M97.0,358.7L98.5,358.6M97.2,360.6L98.7,360.5M97.0,358.7A93.1,93.1 0 0 1 97.2,360.6M93.5,360.0L97.1,359.7M96.0,362.6L98.8,362.5M96.1,364.5L98.9,364.4M96.0,362.6A91.8,91.8 0 0 1 96.1,364.5M93.8,363.7L96.1,363.6M93.5,360.0A89.5,89.5 0 0 1 93.8,363.7M89.5,362.1L93.7,361.8M88.7,355.2A85.3,85.3 0 0 1 89.5,362.1M86.2,359.0L89.2,358.6M86.7,366.6L99.0,366.3M86.2,359.0A82.3,82.3 0 0 1 86.7,366.6M75.8,363.4L86.5,362.8M73.7,350.4A71.5,71.5 0 0 1 75.8,363.4M64.3,358.6L75.1,356.9M58.7,341.1A60.6,60.6 0 0 1 64.3,358.6M51.8,352.9L62.2,349.6M44.7,338.9A49.7,49.7 0 0 1 51.8,352.9M43.2,348.4L48.8,345.6M36.9,339.1A43.5,43.5 0 0 1 43.2,348.4M32.4,349.0L40.3,343.6M27.4,343.2A33.8,33.8 0 0 1 32.4,349.0M23.4,351.7L30.1,346.0M19.8,348.2A25.1,25.1 0 0 1 23.4,351.7M14.7,357.1L21.7,349.8" fill="none" stroke="#7b80c4" stroke-width="0.6"/>
<path d="M87.9,368.0L99.0,368.0M87.9,369.8L99.0,370.0M87.9,368.0A83.5,83.5 0 0 1 87.9,369.8M83.5,368.8L87.9,368.9M88.0,371.6L98.9,372.0M87.9,373.4L98.8,374.1M88.0,371.6A83.7,83.7 0 0 1 87.9,373.4M83.3,372.2L88.0,372.5M83.5,368.8A79.1,79.1 0 0 1 83.3,372.2M30.0,368.8L83.4,370.5M85.0,374.9L98.7,376.1M84.8,376.6L98.5,378.1M85.0,374.9A80.9,80.9 0 0 1 84.8,376.6M82.0,375.5L84.9,375.8M87.0,378.6L98.2,380.1M86.8,380.4L97.9,382.1M87.0,378.6A83.3,83.3 0 0 1 86.8,380.4M81.6,378.8L86.9,379.5M82.0,375.5A77.9,77.9 0 0 1 81.6,378.8M31.4,371.2L81.8,377.1M92.9,383.3L97.6,384.1M92.6,385.2L97.3,386.1M92.9,383.3A89.8,89.8 0 0 1 92.6,385.2M88.9,383.5L92.8,384.2M91.4,386.9L96.8,388.1M91.0,388.7L96.4,390.0M91.4,386.9A89.1,89.1 0 0 1 91.0,388.7M88.2,387.1L91.2,387.8M88.9,383.5A85.9,85.9 0 0 1 88.2,387.1M32.7,373.8L88.6,385.3M87.9,389.9L95.9,392.0M87.4,391.7L95.4,393.9M87.9,389.9A86.3,86.3 0 0 1 87.4,391.7M84.5,389.9L87.6,390.8M88.2,393.8L94.8,395.9M87.6,395.6L94.2,397.8M88.2,393.8A87.6,87.6 0 0 1 87.6,395.6M83.5,393.3L87.9,394.7M84.5,389.9A83.1,83.1 0 0 1 83.5,393.3M33.5,376.6L84.0,391.6M85.6,396.9L93.5,399.7M85.0,398.6L92.8,401.6M85.6,396.9A86.2,86.2 0 0 1 85.0,398.6M34.1,378.9L85.3,397.8M79.7,398.5L92.1,403.5M81.5,401.2L91.3,405.4M80.8,402.8L90.5,407.2M81.5,401.2A83.9,83.9 0 0 1 80.8,402.8M78.7,400.9L81.2,402.0M79.7,398.5A81.3,81.3 0 0 1 78.7,400.9M35.5,381.2L79.2,399.7M74.6,401.8L89.6,409.0M77.9,405.4L88.7,410.8M77.1,406.9L87.8,412.6M77.9,405.4A82.5,82.5 0 0 1 77.1,406.9M73.5,404.0L77.5,406.1M74.6,401.8A78.0,78.0 0 0 1 73.5,404.0M36.5,384.1L74.1,402.9M77.8,409.4L86.8,414.4M76.9,410.9L85.8,416.2M77.8,409.4A84.3,84.3 0 0 1 76.9,410.9M74.8,408.6L77.4,410.1M77.3,413.2L84.8,417.9M76.3,414.8L83.7,419.6M77.3,413.2A85.8,85.8 0 0 1 76.3,414.8M73.0,411.6L76.8,414.0M74.8,408.6A81.2,81.2 0 0 1 73.0,411.6M36.0,387.1L73.9,410.1M67.8,411.2L82.6,421.3M66.9,412.6L81.4,422.9M67.8,411.2A76.7,76.7 0 0 1 66.9,412.6M34.7,389.1L67.3,411.9M36.0,387.1A36.9,36.9 0 0 1 34.7,389.1M34.5,387.6L35.3,388.1M36.5,384.1A35.9,35.9 0 0 1 34.5,387.6M33.7,384.8L35.5,385.9M35.5,381.2A33.8,33.8 0 0 1 33.7,384.8M32.7,382.0L34.6,383.0M34.1,378.9A31.6,31.6 0 0 1 32.7,382.0M32.2,380.0L33.4,380.5M33.5,376.6A30.3,30.3 0 0 1 32.2,380.0M31.5,377.8L32.9,378.3M32.7,373.8A28.9,28.9 0 0 1 31.5,377.8M30.5,375.4L32.2,375.8M31.4,371.2A27.2,27.2 0 0 1 30.5,375.4M29.5,373.0L31.0,373.3M30.0,368.8A25.6,25.6 0 0 1 29.5,373.0M28.2,370.7L29.8,370.9" fill="none" stroke="#a4d49e" stroke-width="0.6"/>
<path d="M42.9,396.5L80.4,424.3M43.1,397.9L79.3,425.8M43.4,399.4L78.1,427.4M75.1,427.4L76.8,428.9M73.9,428.9L75.6,430.3M75.1,427.4A92.4,92.4 0 0 1 73.9,428.9M42.9,401.0L74.5,428.2M42.3,402.6L74.3,431.8M42.1,403.9L72.9,433.2M67.6,430.7L71.6,434.6M66.3,431.9L70.2,436.0M67.6,430.7A89.0,89.0 0 0 1 66.3,431.9M41.5,405.5L67.0,431.3M67.0,435.4L68.8,437.3M65.6,436.7L67.3,438.6M67.0,435.4A92.0,92.0 0 0 1 65.6,436.7M40.7,407.9L66.3,436.1M62.5,435.9L65.9,439.9M61.1,437.1L64.4,441.1M62.5,435.9A89.3,89.3 0 0 1 61.1,437.1M39.8,410.2L61.8,436.5M61.5,440.6L62.9,442.4M60.0,441.7L61.3,443.6M61.5,440.6A92.3,92.3 0 0 1 60.0,441.7M38.0,411.6L60.7,441.2M39.8,410.2A55.1,55.1 0 0 1 38.0,411.6M38.2,410.0L38.9,410.9M40.7,407.9A53.9,53.9 0 0 1 38.2,410.0M38.7,408.1L39.4,409.0M41.5,405.5A52.7,52.7 0 0 1 38.7,408.1M39.6,406.3L40.1,406.8M42.1,403.9A52.1,52.1 0 0 1 39.6,406.3M40.4,404.6L40.9,405.1M42.3,402.6A51.3,51.3 0 0 1 40.4,404.6M40.9,403.2L41.4,403.6M42.9,401.0A50.7,50.7 0 0 1 40.9,403.2M41.5,401.7L41.9,402.1M43.4,399.4A50.1,50.1 0 0 1 41.5,401.7M41.6,399.8L42.5,400.6M43.1,397.9A48.9,48.9 0 0 1 41.6,399.8M41.6,398.2L42.3,398.9M42.9,396.5A47.9,47.9 0 0 1 41.6,398.2M41.5,396.8L42.3,397.4" fill="none" stroke="#a3c9ea" stroke-width="0.6"/>
<path d="M56.3,440.8L59.3,445.0M54.9,441.7L57.9,446.0M56.3,440.8A89.4,89.4 0 0 1 54.9,441.7M53.6,438.3L55.6,441.3M51.6,439.6L56.4,447.0M53.6,438.3A85.8,85.8 0 0 1 51.6,439.6M40.3,420.9L52.6,439.0M54.1,446.7L54.9,448.0M52.6,447.6L53.4,448.9M54.1,446.7A93.1,93.1 0 0 1 52.6,447.6M52.1,445.1L53.4,447.2M51.2,448.5L51.9,449.8M49.6,449.4L50.4,450.7M48.1,450.2L48.8,451.5M49.6,449.4A93.1,93.1 0 0 1 48.1,450.2M48.9,449.8L48.9,449.8M51.2,448.5A93.1,93.1 0 0 1 48.9,449.8M48.8,447.0L50.0,449.2M52.1,445.1A90.6,90.6 0 0 1 48.8,447.0M37.7,424.4L50.5,446.0M44.4,446.8L47.2,452.3M43.0,447.6L45.7,453.1M44.4,446.8A88.4,88.4 0 0 1 43.0,447.6M42.2,444.1L43.7,447.2M40.0,445.1L44.1,453.9M42.2,444.1A84.9,84.9 0 0 1 40.0,445.1M33.3,428.4L41.1,444.6M41.8,453.2L42.4,454.6M40.2,453.9L40.8,455.3M38.6,454.6L39.2,456.0M40.2,453.9A93.1,93.1 0 0 1 38.6,454.6M39.4,454.3L39.4,454.3M37.0,455.2L37.5,456.6M39.4,454.3A93.1,93.1 0 0 1 37.0,455.2M38.2,454.7L38.2,454.7M41.8,453.2A93.1,93.1 0 0 1 38.2,454.7M39.1,451.8L40.0,454.0M34.6,453.6L35.9,457.2M39.1,451.8A90.8,90.8 0 0 1 34.6,453.6M28.9,431.8L36.9,452.7M32.2,451.9L34.2,457.8M30.7,452.4L32.5,458.3M32.2,451.9A88.4,88.4 0 0 1 30.7,452.4M30.7,449.8L31.5,452.2M28.4,450.5L30.8,458.8M30.7,449.8A85.9,85.9 0 0 1 28.4,450.5M28.5,446.6L29.5,450.1M26.5,449.7L29.1,459.3M25.0,450.1L27.4,459.8M26.5,449.7A84.6,84.6 0 0 1 25.0,450.1M25.1,447.5L25.7,449.9M28.5,446.6A82.2,82.2 0 0 1 25.1,447.5M23.4,435.1L26.8,447.1M24.4,454.8L25.7,460.2M22.8,455.1L24.0,460.6M24.4,454.8A89.0,89.0 0 0 1 22.8,455.1M19.7,437.2L23.6,454.9M21.2,455.3L22.2,460.9M19.5,455.6L20.5,461.2M21.2,455.3A88.9,88.9 0 0 1 19.5,455.6M19.5,450.8L20.3,455.5M17.7,454.9L18.7,461.5M16.1,455.1L17.0,461.8M17.7,454.9A87.9,87.9 0 0 1 16.1,455.1M16.4,451.3L16.9,455.0M19.5,450.8A84.2,84.2 0 0 1 16.4,451.3M15.9,438.7L17.9,451.1M14.7,457.5L15.2,462.0M13.2,459.7L13.5,462.2M11.5,459.9L11.7,462.3M13.2,459.7A92.2,92.2 0 0 1 11.5,459.9M12.2,457.8L12.4,459.8M14.7,457.5A90.1,90.1 0 0 1 12.2,457.8M12.9,452.2L13.5,457.7M9.4,452.5L9.9,462.4M12.9,452.2A84.6,84.6 0 0 1 9.4,452.5M10.2,441.1L11.1,452.4M7.9,456.8L8.2,462.5M6.4,460.5L6.4,462.6M4.6,460.5L4.6,462.6M6.4,460.5A92.5,92.5 0 0 1 4.6,460.5M5.5,456.8L5.5,460.5M7.9,456.8A88.9,88.9 0 0 1 5.5,456.8M6.6,452.7L6.7,456.8M3.0,457.1L2.9,462.6M1.3,457.0L1.1,462.5M3.0,457.1A89.1,89.1 0 0 1 1.3,457.0M2.2,452.7L2.1,457.1M6.6,452.7A84.7,84.7 0 0 1 2.2,452.7M4.4,441.3L4.4,452.7M10.2,441.1A73.3,73.3 0 0 1 4.4,441.3M7.3,439.6L7.3,441.2M15.9,438.7A71.6,71.6 0 0 1 7.3,439.6M11.5,438.5L11.6,439.3M19.7,437.2A70.8,70.8 0 0 1 11.5,438.5M15.4,436.9L15.6,437.9M23.4,435.1A69.7,69.7 0 0 1 15.4,436.9M19.1,434.7L19.5,436.1M28.9,431.8A68.3,68.3 0 0 1 19.1,434.7M23.7,432.1L24.1,433.4M33.3,428.4A66.9,66.9 0 0 1 23.7,432.1M28.0,429.1L28.6,430.4M37.7,424.4A65.5,65.5 0 0 1 28.0,429.1M32.3,425.6L32.9,426.9M40.3,420.9A63.9,63.9 0 0 1 32.3,425.6M35.4,421.7L36.4,423.4" fill="none" stroke="#f0e648" stroke-width="0.6"/>
<path d="M5.4,359.1A9.0,9.0 0 0 1 10.6,361.5M10.6,361.5L14.7,357.1" fill="none" stroke="#7b80c4" stroke-width="0.6"/>
<path d="M14.7,357.1A15.0,15.0 0 0 1 19.3,369.7" fill="none" stroke="#7b80c4" stroke-width="0.6"/>
<path d="M19.3,369.7L28.2,370.7" fill="none" stroke="#a4d49e" stroke-width="0.6"/>
<path d="M34.2,371.4A30.0,30.0 0 0 1 28.1,386.4M28.1,386.4L41.5,396.8M39.4,399.3L44.6,404.0M44.6,404.0A54.0,54.0 0 0 1 31.4,414.8M31.4,414.8L35.4,421.7" fill="none" stroke="#a3c9ea" stroke-width="0.6"/>
</g>
<text x="3" y="411" font-size="10.3" fill="#111"><tspan font-style="italic">K</tspan>=2</text>
<rect x="161.4" y="320.2" width="228.9" height="62.2" fill="#f0a566"/>
<rect x="390.3" y="320.2" width="113.0" height="62.2" fill="#f0e545"/>
<rect x="503.3" y="320.2" width="168.3" height="62.2" fill="#f0a566"/>
<rect x="671.6" y="320.2" width="37.2" height="62.2" fill="#f0e545"/>
<rect x="322.1" y="320.2" width="3.6" height="3.0" fill="#f0e545"/>
<rect x="325.7" y="320.2" width="3.8" height="7.0" fill="#f0e545"/>
<rect x="343.8" y="320.2" width="3.0" height="3.6" fill="#f0e545"/>
<rect x="407.0" y="365.1" width="2.6" height="17.3" fill="#f0a566"/>
<rect x="413.8" y="379.2" width="2.5" height="3.2" fill="#f0a566"/>
<rect x="424.3" y="381.2" width="2.1" height="1.2" fill="#f0a566"/>
<rect x="509.0" y="320.2" width="2.6" height="1.8" fill="#f0e545"/>
<rect x="511.6" y="320.2" width="2.6" height="1.0" fill="#f0e545"/>
<rect x="558.0" y="320.2" width="2.6" height="1.2" fill="#f0e545"/>
<rect x="570.5" y="320.2" width="2.6" height="1.4" fill="#f0e545"/>
<rect x="602.5" y="320.2" width="2.6" height="1.6" fill="#f0e545"/>
<rect x="606.5" y="320.2" width="2.6" height="1.2" fill="#f0e545"/>
<rect x="610.0" y="320.2" width="2.6" height="1.8" fill="#f0e545"/>
<rect x="640.5" y="320.2" width="2.6" height="2.0" fill="#f0e545"/>
<rect x="666.5" y="320.2" width="2.6" height="2.2" fill="#f0e545"/>
<rect x="530.0" y="320.2" width="2.6" height="0.8" fill="#f0e545"/>
<rect x="585.0" y="320.2" width="2.6" height="0.8" fill="#f0e545"/>
<rect x="625.0" y="320.2" width="2.6" height="0.8" fill="#f0e545"/>
<rect x="678.0" y="380.9" width="2.62" height="1.5" fill="#f0a566"/>
<rect x="681.5" y="380.4" width="2.62" height="2.0" fill="#f0a566"/>
<rect x="689.2" y="375.9" width="2.62" height="6.5" fill="#f0a566"/>
<rect x="691.8" y="380.4" width="2.62" height="2.0" fill="#f0a566"/>
<rect x="696.0" y="381.2" width="2.62" height="1.2" fill="#f0a566"/>
<rect x="161.4" y="386.6" width="109.6" height="63.3" fill="#f0a566"/>
<rect x="271" y="386.6" width="119.3" height="63.3" fill="#a5d3a0"/>
<rect x="390.3" y="386.6" width="113.0" height="63.3" fill="#f0e545"/>
<rect x="669" y="386.6" width="39.8" height="63.3" fill="#9fcbe3"/>
<rect x="187.5" y="386.6" width="2.62" height="11.0" fill="#a5d3a0"/>
<rect x="220.3" y="386.6" width="2.62" height="8.5" fill="#a5d3a0"/>
<rect x="243.5" y="386.6" width="2.62" height="5.0" fill="#a5d3a0"/>
<rect x="251.4" y="386.6" width="2.62" height="10.0" fill="#a5d3a0"/>
<rect x="254.0" y="386.6" width="2.62" height="15.5" fill="#a5d3a0"/>
<rect x="254.0" y="399.6" width="2.62" height="2.7" fill="#7d80bf"/>
<rect x="283.0" y="445.4" width="2.6" height="4.5" fill="#f0a566"/>
<rect x="285.6" y="447.4" width="2.4" height="2.5" fill="#f0a566"/>
<rect x="320.6" y="434.6" width="3.0" height="15.3" fill="#7d80bf"/>
<rect x="324.2" y="443.9" width="2.9" height="6.0" fill="#f0e545"/>
<rect x="327.1" y="443.1" width="3.9" height="6.8" fill="#f0e545"/>
<rect x="327.1" y="440.5" width="3.9" height="2.6" fill="#f0a566"/>
<rect x="331.0" y="417.5" width="3.0" height="32.4" fill="#7d80bf"/>
<rect x="334.0" y="410.9" width="3.0" height="39.0" fill="#7d80bf"/>
<rect x="344.2" y="446.1" width="3.0" height="3.8" fill="#f0a566"/>
<rect x="344.2" y="441.1" width="3.0" height="5.0" fill="#f0e545"/>
<rect x="344.8" y="441.9" width="1.8" height="1.7" fill="#7d80bf"/>
<rect x="348.7" y="444.9" width="2.8" height="5.0" fill="#f0a566"/>
<rect x="351.5" y="443.7" width="3.1" height="6.2" fill="#f0a566"/>
<rect x="357.5" y="436.9" width="3.0" height="13.0" fill="#f0a566"/>
<rect x="360.5" y="435.2" width="2.9" height="14.7" fill="#f0a566"/>
<rect x="360.5" y="426.9" width="2.9" height="8.3" fill="#7d80bf"/>
<rect x="394.4" y="446.9" width="2.9" height="3.0" fill="#9fcbe3"/>
<rect x="398.0" y="444.9" width="2.4" height="5.0" fill="#9fcbe3"/>
<rect x="407.0" y="439.6" width="3.0" height="10.3" fill="#7d80bf"/>
<rect x="410.0" y="433.7" width="3.6" height="16.2" fill="#9fcbe3"/>
<rect x="413.6" y="446.4" width="3.4" height="3.5" fill="#9fcbe3"/>
<rect x="417.0" y="447.4" width="4.0" height="2.5" fill="#9fcbe3"/>
<rect x="423.3" y="440.9" width="3.5" height="9.0" fill="#9fcbe3"/>
<rect x="430.7" y="437.9" width="2.8" height="12.0" fill="#9fcbe3"/>
<rect x="433.5" y="435.7" width="2.8" height="14.2" fill="#9fcbe3"/>
<rect x="463.7" y="445.9" width="3.0" height="4.0" fill="#9fcbe3"/>
<rect x="476.4" y="437.2" width="3.6" height="12.7" fill="#9fcbe3"/>
<rect x="486.4" y="443.9" width="3.9" height="6.0" fill="#9fcbe3"/>
<rect x="493.2" y="434.9" width="3.8" height="15.0" fill="#9fcbe3"/>
<rect x="497.0" y="433.4" width="3.6" height="16.5" fill="#9fcbe3"/>
<rect x="500.6" y="431.9" width="2.7" height="18.0" fill="#9fcbe3"/>
<rect x="407.0" y="386.6" width="3.0" height="7.4" fill="#a5d3a0"/>
<rect x="413.6" y="386.6" width="2.9" height="4.0" fill="#a5d3a0"/>
<rect x="503.3" y="386.6" width="166.0" height="63.3" fill="#7d80bf"/>
<path d="M503.5,386.6 L503.5,407.4 L506.3,407.4 L506.3,405.9 L509.0,405.9 L509.0,396.8 L511.8,396.8 L511.8,402.9 L514.2,402.9 L514.2,405.0 L516.9,405.0 L516.9,405.9 L519.4,405.9 L519.4,409.0 L522.1,409.0 L522.1,407.4 L524.9,407.4 L524.9,401.3 L527.3,401.3 L527.3,408.0 L530.1,408.0 L530.1,399.8 L532.8,399.8 L532.8,393.7 L535.2,393.7 L535.2,401.9 L538.0,401.9 L538.0,398.9 L540.7,398.9 L540.7,404.4 L543.2,404.4 L543.2,408.0 L545.9,408.0 L545.9,410.5 L548.6,410.5 L548.6,409.0 L551.1,409.0 L551.1,404.4 L553.8,404.4 L553.8,401.9 L556.6,401.9 L556.6,402.9 L559.0,402.9 L559.0,410.5 L561.7,410.5 L561.7,386.7 L569.7,386.7 L569.7,393.7 L572.4,393.7 L572.4,389.1 L574.9,389.1 L574.9,398.3 L577.6,398.3 L577.6,401.9 L580.3,401.9 L580.3,404.4 L583.1,404.4 L583.1,398.9 L585.5,398.9 L585.5,386.7 L595.6,386.7 L595.6,400.7 L598.6,400.7 L598.6,393.7 L601.1,393.7 L601.1,386.7 L609.3,386.7 L609.3,399.8 L612.0,399.8 L612.0,400.7 L614.5,400.7 L614.5,396.8 L616.9,396.8 L616.9,392.2 L619.7,392.2 L619.7,386.7 L626.1,386.7 L626.1,392.8 L629.1,392.8 L629.1,386.7 L668.7,386.7 L668.7,386.6 Z" fill="#a5d3a0"/>
<path d="M503.5,449.9 L503.5,436.4 L506.3,436.4 L506.3,433.3 L509.0,433.3 L509.0,434.9 L511.8,434.9 L511.8,436.4 L514.2,436.4 L514.2,431.8 L516.9,431.8 L516.9,430.3 L519.4,430.3 L519.4,433.3 L522.1,433.3 L522.1,428.8 L524.9,428.8 L524.9,434.9 L527.3,434.9 L527.3,431.8 L530.1,431.8 L530.1,433.3 L532.8,433.3 L532.8,441.0 L535.2,441.0 L535.2,436.4 L538.0,436.4 L538.0,434.9 L540.7,434.9 L540.7,433.3 L543.2,433.3 L543.2,433.3 L545.9,433.3 L545.9,431.8 L548.6,431.8 L548.6,431.2 L551.1,431.2 L551.1,437.9 L553.8,437.9 L553.8,441.0 L556.6,441.0 L556.6,436.4 L559.0,436.4 L559.0,434.9 L561.7,434.9 L561.7,450.1 L569.7,450.1 L569.7,436.4 L572.4,436.4 L572.4,445.5 L574.9,445.5 L574.9,439.4 L577.6,439.4 L577.6,433.3 L580.3,433.3 L580.3,436.4 L583.1,436.4 L583.1,441.0 L585.5,441.0 L585.5,450.1 L588.3,450.1 L588.3,445.5 L591.0,445.5 L591.0,450.1 L595.6,450.1 L595.6,434.9 L598.6,434.9 L598.6,433.3 L601.1,433.3 L601.1,450.1 L606.2,450.1 L606.2,436.4 L609.3,436.4 L609.3,434.3 L612.0,434.3 L612.0,436.4 L614.5,436.4 L614.5,433.3 L616.9,433.3 L616.9,442.5 L619.7,442.5 L619.7,445.5 L622.4,445.5 L622.4,450.1 L626.1,450.1 L626.1,441.0 L629.1,441.0 L629.1,445.5 L632.2,445.5 L632.2,447.1 L635.2,447.1 L635.2,448.6 L641.3,448.6 L641.3,447.7 L645.9,447.7 L645.9,445.5 L648.9,445.5 L648.9,450.1 L668.7,450.1 L668.7,449.9 Z" fill="#f0a566"/>
<rect x="674.8" y="386.6" width="2.62" height="6.0" fill="#f0e545"/>
<rect x="682.2" y="386.6" width="2.62" height="5.5" fill="#f0e545"/>
<line x1="163.5" x2="268.9" y1="276.8" y2="276.8" stroke="#3a3a3a" stroke-width="1.2"/>
<line x1="272.6" x2="500" y1="276.8" y2="276.8" stroke="#3a3a3a" stroke-width="1.2"/>
<line x1="504.9" x2="707.8" y1="276.8" y2="276.8" stroke="#3a3a3a" stroke-width="1.2"/>
<line x1="163.5" x2="199.2" y1="317.1" y2="317.1" stroke="#3a3a3a" stroke-width="1.2"/>
<line x1="203" x2="268.9" y1="317.1" y2="317.1" stroke="#3a3a3a" stroke-width="1.2"/>
<line x1="272.6" x2="299.3" y1="317.1" y2="317.1" stroke="#3a3a3a" stroke-width="1.2"/>
<line x1="302.8" x2="387.5" y1="317.1" y2="317.1" stroke="#3a3a3a" stroke-width="1.2"/>
<line x1="391.5" x2="431" y1="317.1" y2="317.1" stroke="#3a3a3a" stroke-width="1.2"/>
<line x1="435.6" x2="500" y1="317.1" y2="317.1" stroke="#3a3a3a" stroke-width="1.2"/>
<line x1="504.9" x2="561.5" y1="317.1" y2="317.1" stroke="#3a3a3a" stroke-width="1.2"/>
<line x1="566.4" x2="575.9" y1="317.1" y2="317.1" stroke="#3a3a3a" stroke-width="1.2"/>
<line x1="581.2" x2="584" y1="317.1" y2="317.1" stroke="#3a3a3a" stroke-width="1.2"/>
<line x1="588.2" x2="667.3" y1="317.1" y2="317.1" stroke="#3a3a3a" stroke-width="1.2"/>
<line x1="671.5" x2="686.5" y1="317.1" y2="317.1" stroke="#3a3a3a" stroke-width="1.2"/>
<line x1="690" x2="691.8" y1="317.1" y2="317.1" stroke="#3a3a3a" stroke-width="1.2"/>
<line x1="695.2" x2="698.3" y1="317.1" y2="317.1" stroke="#3a3a3a" stroke-width="1.2"/>
<line x1="702" x2="707.8" y1="317.1" y2="317.1" stroke="#3a3a3a" stroke-width="1.2"/>
<text x="216.0" y="272.4" font-size="13" text-anchor="middle" fill="#141414"  >Baokang</text>
<text x="399.3" y="272.4" font-size="13" text-anchor="start" fill="#141414"  >Jianshi</text>
<text x="569.7" y="272.4" font-size="13" text-anchor="start" fill="#141414"  >Shennongjia</text>
<text x="0.0" y="0.0" font-size="7.7" text-anchor="start" fill="#141414"  transform="translate(184.1 312.8) rotate(-90)">BKJca1</text>
<text x="0.0" y="0.0" font-size="7.7" text-anchor="start" fill="#141414"  transform="translate(238.7 312.8) rotate(-90)">BKJca2</text>
<text x="0.0" y="0.0" font-size="7.7" text-anchor="start" fill="#141414"  transform="translate(288.7 312.8) rotate(-90)">JSJca1</text>
<text x="0.0" y="0.0" font-size="7.7" text-anchor="start" fill="#141414"  transform="translate(348.2 312.8) rotate(-90)">JSJca2</text>
<text x="0.0" y="0.0" font-size="7.7" text-anchor="start" fill="#141414"  transform="translate(415.4 312.8) rotate(-90)">JSJre1</text>
<text x="0.0" y="0.0" font-size="7.7" text-anchor="start" fill="#141414"  transform="translate(471.9 312.8) rotate(-90)">JSJre2</text>
<text x="0.0" y="0.0" font-size="7.7" text-anchor="start" fill="#141414"  transform="translate(538.7 312.8) rotate(-90)">SNJJca1</text>
<text x="0.0" y="0.0" font-size="7.7" text-anchor="start" fill="#141414"  transform="translate(573.2 312.8) rotate(-90)">SNJJca2</text>
<text x="0.0" y="0.0" font-size="7.7" text-anchor="start" fill="#141414"  transform="translate(585.5 312.8) rotate(-90)">SNJJca3</text>
<text x="0.0" y="0.0" font-size="7.7" text-anchor="start" fill="#141414"  transform="translate(630.7 312.8) rotate(-90)">SNJJca4</text>
<text x="0.0" y="0.0" font-size="7.7" text-anchor="start" fill="#141414"  transform="translate(681.9 312.8) rotate(-90)">SNJJre1</text>
<text x="0.0" y="0.0" font-size="7.7" text-anchor="start" fill="#141414"  transform="translate(691.7 312.8) rotate(-90)">SNJJre2</text>
<text x="0.0" y="0.0" font-size="7.7" text-anchor="start" fill="#141414"  transform="translate(699.2 312.8) rotate(-90)">SNJJre3</text>
<text x="0.0" y="0.0" font-size="7.7" text-anchor="start" fill="#141414"  transform="translate(706.3 312.8) rotate(-90)">SNJJre4</text>
<text x="126" y="356" font-size="13" fill="#111"><tspan font-style="italic">K</tspan>=2</text>
<text x="126" y="422.5" font-size="13" fill="#111"><tspan font-style="italic">K</tspan>=5</text>
<path d="M45.95,604 L45.95,572.4 L46.8,570.2 47.8,569.0 48.9,570.0 49.6,570.0 50.9,570.2 52.3,569.5 53.3,569.7 54.5,569.3 55.3,568.9 56.3,568.7 57.5,570.1 58.8,570.0 59.9,570.2 61.2,570.0 62.2,569.9 63.4,568.2 64.8,568.8 65.8,569.1 67.1,569.9 67.9,570.0 68.8,569.2 69.9,570.0 70.8,569.3 71.8,570.2 72.9,568.3 74.1,569.2 75.4,568.3 76.6,567.8 77.4,568.6 78.7,568.2 79.8,570.1 L81.05,572.4 L81.05,604 Z" fill="#bdbdbd"/>
<g fill="#bdbdbd"><circle cx="56.6" cy="563.8" r="2.1"/><circle cx="74.9" cy="569.0" r="2.1"/><circle cx="50.2" cy="539.5" r="2.1"/><circle cx="52.2" cy="566.0" r="2.1"/><circle cx="72.2" cy="567.1" r="2.1"/><circle cx="48.8" cy="556.0" r="2.1"/><circle cx="70.6" cy="569.1" r="2.1"/><circle cx="75.8" cy="566.8" r="2.1"/><circle cx="63.7" cy="543.7" r="2.1"/><circle cx="49.8" cy="567.0" r="2.1"/><circle cx="48.4" cy="563.4" r="2.1"/><circle cx="60.5" cy="568.0" r="2.1"/><circle cx="52.4" cy="563.2" r="2.1"/><circle cx="75.4" cy="569.1" r="2.1"/><circle cx="78.3" cy="566.9" r="2.1"/><circle cx="64.0" cy="554.6" r="2.1"/><circle cx="66.6" cy="562.7" r="2.1"/><circle cx="67.4" cy="564.1" r="2.1"/><circle cx="69.5" cy="551.0" r="2.1"/><circle cx="57.1" cy="567.6" r="2.1"/><circle cx="64.2" cy="544.6" r="2.1"/><circle cx="60.8" cy="569.3" r="2.1"/><circle cx="48.0" cy="563.7" r="2.1"/><circle cx="67.8" cy="563.2" r="2.1"/><circle cx="67.6" cy="569.0" r="2.1"/><circle cx="69.3" cy="565.3" r="2.1"/><circle cx="70.2" cy="566.6" r="2.1"/><circle cx="48.1" cy="560.7" r="2.1"/><circle cx="69.2" cy="569.0" r="2.1"/><circle cx="66.0" cy="547.8" r="2.1"/><circle cx="59.1" cy="566.9" r="2.1"/><circle cx="59.3" cy="567.0" r="2.1"/><circle cx="57.1" cy="563.5" r="2.1"/><circle cx="72.3" cy="566.3" r="2.1"/><circle cx="65.7" cy="569.2" r="2.1"/><circle cx="57.4" cy="560.7" r="2.1"/><circle cx="73.3" cy="567.8" r="2.1"/><circle cx="53.4" cy="567.6" r="2.1"/><circle cx="69.9" cy="565.7" r="2.1"/><circle cx="57.7" cy="568.7" r="2.1"/><circle cx="74.3" cy="566.7" r="2.1"/><circle cx="75.0" cy="565.6" r="2.1"/><circle cx="58.2" cy="568.2" r="2.1"/><circle cx="75.9" cy="562.5" r="2.1"/><circle cx="54.6" cy="565.5" r="2.1"/><circle cx="64.5" cy="568.6" r="2.1"/><circle cx="73.4" cy="568.0" r="2.1"/><circle cx="71.8" cy="557.5" r="2.1"/><circle cx="73.4" cy="562.7" r="2.1"/><circle cx="51.5" cy="566.6" r="2.1"/><circle cx="73.0" cy="567.1" r="2.1"/><circle cx="58.5" cy="567.3" r="2.1"/><circle cx="60.9" cy="565.9" r="2.1"/><circle cx="77.1" cy="566.0" r="2.1"/><circle cx="47.5" cy="568.3" r="2.1"/><circle cx="75.8" cy="550.7" r="2.1"/><circle cx="78.0" cy="565.7" r="2.1"/><circle cx="54.5" cy="552.3" r="2.1"/><circle cx="68.8" cy="557.6" r="2.1"/><circle cx="56.7" cy="564.6" r="2.1"/><circle cx="54.7" cy="566.7" r="2.1"/><circle cx="66.4" cy="568.9" r="2.1"/><circle cx="73.5" cy="567.2" r="2.1"/><circle cx="76.5" cy="569.1" r="2.1"/><circle cx="77.2" cy="561.7" r="2.1"/><circle cx="76.4" cy="554.6" r="2.1"/><circle cx="71.4" cy="569.3" r="2.1"/><circle cx="57.0" cy="568.2" r="2.1"/><circle cx="64.3" cy="562.3" r="2.1"/><circle cx="77.7" cy="565.9" r="2.1"/><circle cx="58.4" cy="563.2" r="2.1"/><circle cx="75.2" cy="567.5" r="2.1"/><circle cx="72.6" cy="565.2" r="2.1"/><circle cx="53.7" cy="566.6" r="2.1"/><circle cx="73.7" cy="564.4" r="2.1"/><circle cx="72.9" cy="568.2" r="2.1"/><circle cx="73.4" cy="552.8" r="2.1"/><circle cx="67.7" cy="569.3" r="2.1"/><circle cx="57.2" cy="556.5" r="2.1"/><circle cx="61.0" cy="564.5" r="2.1"/><circle cx="72.4" cy="565.2" r="2.1"/><circle cx="49.1" cy="569.4" r="2.1"/><circle cx="51.4" cy="568.5" r="2.1"/><circle cx="78.8" cy="568.9" r="2.1"/><circle cx="50.1" cy="556.8" r="2.1"/><circle cx="57.5" cy="566.9" r="2.1"/><circle cx="68.2" cy="566.6" r="2.1"/><circle cx="59.0" cy="563.6" r="2.1"/><circle cx="58.0" cy="568.0" r="2.1"/><circle cx="65.3" cy="568.5" r="2.1"/><circle cx="59.6" cy="561.2" r="2.1"/><circle cx="53.1" cy="568.9" r="2.1"/><circle cx="66.9" cy="566.3" r="2.1"/><circle cx="59.6" cy="559.4" r="2.1"/><circle cx="67.5" cy="558.9" r="2.1"/><circle cx="59.4" cy="565.7" r="2.1"/><circle cx="70.1" cy="564.9" r="2.1"/><circle cx="69.8" cy="565.8" r="2.1"/><circle cx="55.3" cy="565.4" r="2.1"/><circle cx="69.8" cy="564.4" r="2.1"/><circle cx="61.1" cy="568.9" r="2.1"/><circle cx="75.8" cy="565.8" r="2.1"/><circle cx="59.4" cy="551.4" r="2.1"/><circle cx="55.8" cy="559.2" r="2.1"/><circle cx="51.3" cy="565.3" r="2.1"/><circle cx="68.7" cy="558.5" r="2.1"/><circle cx="72.9" cy="555.2" r="2.1"/><circle cx="65.6" cy="560.8" r="2.1"/><circle cx="66.3" cy="568.7" r="2.1"/><circle cx="52.0" cy="569.4" r="2.1"/><circle cx="48.8" cy="559.7" r="2.1"/><circle cx="50.6" cy="568.8" r="2.1"/><circle cx="72.8" cy="555.5" r="2.1"/><circle cx="74.6" cy="568.6" r="2.1"/><circle cx="74.4" cy="562.1" r="2.1"/></g>
<path d="M81.95,604 L81.95,572.4 L82.8,569.6 84.2,568.7 84.9,569.4 86.1,568.6 86.9,570.2 88.1,569.9 89.1,570.1 90.2,569.9 91.0,569.6 91.9,569.0 92.8,569.1 93.8,569.5 94.8,569.7 95.5,567.5 96.5,570.3 97.7,569.4 99.0,568.9 100.1,569.1 101.3,570.2 102.6,570.0 103.8,569.9 105.2,569.2 106.4,570.2 107.2,570.2 108.3,569.6 109.3,570.1 110.6,568.7 111.5,570.0 112.8,569.3 113.9,570.2 L114.85,572.4 L114.85,604 Z" fill="#85c7e8"/>
<g fill="#85c7e8"><circle cx="94.9" cy="565.1" r="2.1"/><circle cx="94.2" cy="568.2" r="2.1"/><circle cx="106.7" cy="566.9" r="2.1"/><circle cx="113.2" cy="568.4" r="2.1"/><circle cx="101.4" cy="565.1" r="2.1"/><circle cx="108.5" cy="565.3" r="2.1"/><circle cx="100.1" cy="558.2" r="2.1"/><circle cx="105.0" cy="565.1" r="2.1"/><circle cx="95.4" cy="556.7" r="2.1"/><circle cx="91.8" cy="548.4" r="2.1"/><circle cx="103.7" cy="561.1" r="2.1"/><circle cx="90.7" cy="548.6" r="2.1"/><circle cx="89.0" cy="567.4" r="2.1"/><circle cx="109.2" cy="561.4" r="2.1"/><circle cx="91.0" cy="554.4" r="2.1"/><circle cx="96.1" cy="566.9" r="2.1"/><circle cx="85.9" cy="560.9" r="2.1"/><circle cx="108.5" cy="568.8" r="2.1"/><circle cx="94.1" cy="567.1" r="2.1"/><circle cx="103.7" cy="563.7" r="2.1"/><circle cx="93.4" cy="569.4" r="2.1"/><circle cx="98.0" cy="565.7" r="2.1"/><circle cx="101.0" cy="567.9" r="2.1"/><circle cx="95.1" cy="549.1" r="2.1"/><circle cx="91.6" cy="568.6" r="2.1"/><circle cx="86.7" cy="562.3" r="2.1"/><circle cx="109.4" cy="555.2" r="2.1"/><circle cx="106.6" cy="566.3" r="2.1"/><circle cx="92.2" cy="560.2" r="2.1"/><circle cx="103.0" cy="562.0" r="2.1"/><circle cx="91.3" cy="558.7" r="2.1"/><circle cx="112.3" cy="560.2" r="2.1"/><circle cx="99.5" cy="562.1" r="2.1"/><circle cx="98.2" cy="568.6" r="2.1"/><circle cx="105.0" cy="566.6" r="2.1"/><circle cx="100.4" cy="562.0" r="2.1"/><circle cx="102.8" cy="568.1" r="2.1"/><circle cx="88.7" cy="562.9" r="2.1"/><circle cx="109.2" cy="555.0" r="2.1"/><circle cx="93.3" cy="568.4" r="2.1"/><circle cx="101.3" cy="561.1" r="2.1"/><circle cx="102.8" cy="564.1" r="2.1"/><circle cx="92.8" cy="565.4" r="2.1"/><circle cx="85.4" cy="568.1" r="2.1"/><circle cx="106.1" cy="561.2" r="2.1"/><circle cx="105.6" cy="564.3" r="2.1"/><circle cx="91.4" cy="566.5" r="2.1"/><circle cx="109.6" cy="566.2" r="2.1"/><circle cx="98.5" cy="569.1" r="2.1"/><circle cx="106.5" cy="567.5" r="2.1"/><circle cx="93.4" cy="566.5" r="2.1"/><circle cx="99.6" cy="566.0" r="2.1"/><circle cx="94.0" cy="559.8" r="2.1"/><circle cx="88.4" cy="557.2" r="2.1"/><circle cx="106.8" cy="568.6" r="2.1"/><circle cx="88.9" cy="560.9" r="2.1"/><circle cx="95.9" cy="568.0" r="2.1"/><circle cx="107.9" cy="560.5" r="2.1"/><circle cx="101.2" cy="560.4" r="2.1"/><circle cx="95.3" cy="568.4" r="2.1"/><circle cx="99.2" cy="568.0" r="2.1"/><circle cx="89.4" cy="563.9" r="2.1"/><circle cx="106.9" cy="567.5" r="2.1"/><circle cx="107.5" cy="569.2" r="2.1"/><circle cx="99.7" cy="554.9" r="2.1"/><circle cx="102.4" cy="563.7" r="2.1"/><circle cx="107.4" cy="544.8" r="2.1"/><circle cx="101.5" cy="565.1" r="2.1"/><circle cx="83.4" cy="560.9" r="2.1"/><circle cx="103.3" cy="559.8" r="2.1"/><circle cx="99.1" cy="565.0" r="2.1"/><circle cx="89.2" cy="565.4" r="2.1"/><circle cx="84.5" cy="564.5" r="2.1"/><circle cx="102.8" cy="564.9" r="2.1"/><circle cx="100.4" cy="565.6" r="2.1"/><circle cx="105.7" cy="548.6" r="2.1"/><circle cx="84.9" cy="563.0" r="2.1"/><circle cx="90.4" cy="566.5" r="2.1"/><circle cx="99.6" cy="568.9" r="2.1"/><circle cx="93.1" cy="552.1" r="2.1"/><circle cx="87.4" cy="561.7" r="2.1"/><circle cx="101.4" cy="556.7" r="2.1"/><circle cx="105.6" cy="561.2" r="2.1"/><circle cx="107.6" cy="566.7" r="2.1"/><circle cx="104.8" cy="551.9" r="2.1"/><circle cx="86.6" cy="565.1" r="2.1"/><circle cx="85.7" cy="569.1" r="2.1"/><circle cx="88.2" cy="567.9" r="2.1"/><circle cx="104.4" cy="564.9" r="2.1"/><circle cx="96.1" cy="564.4" r="2.1"/><circle cx="92.5" cy="562.6" r="2.1"/><circle cx="106.1" cy="565.3" r="2.1"/><circle cx="88.8" cy="566.0" r="2.1"/><circle cx="95.2" cy="554.4" r="2.1"/><circle cx="101.3" cy="564.5" r="2.1"/><circle cx="83.4" cy="567.7" r="2.1"/><circle cx="106.9" cy="567.9" r="2.1"/><circle cx="97.2" cy="568.4" r="2.1"/><circle cx="89.6" cy="568.0" r="2.1"/><circle cx="95.5" cy="568.2" r="2.1"/><circle cx="84.2" cy="568.2" r="2.1"/><circle cx="88.4" cy="568.6" r="2.1"/><circle cx="85.1" cy="565.0" r="2.1"/><circle cx="96.8" cy="569.2" r="2.1"/><circle cx="104.5" cy="566.0" r="2.1"/><circle cx="95.5" cy="569.1" r="2.1"/><circle cx="84.2" cy="566.1" r="2.1"/><circle cx="97.8" cy="547.4" r="2.1"/></g>
<path d="M115.65,604 L115.65,572.4 L116.5,569.6 117.3,569.6 118.1,569.6 118.8,570.2 120.1,569.5 121.1,569.5 122.0,569.9 122.9,569.7 123.8,568.9 124.6,569.2 125.7,567.8 126.4,569.8 127.2,570.2 127.9,568.9 129.3,569.8 130.1,569.1 131.4,570.1 132.7,570.0 133.6,570.2 134.8,569.9 135.7,570.1 137.0,569.5 137.9,569.6 139.1,569.7 140.3,570.0 141.5,569.6 142.8,569.2 143.8,569.6 145.0,569.9 146.1,570.2 147.3,569.7 L149.05,572.4 L149.05,604 Z" fill="#bdbdbd"/>
<g fill="#bdbdbd"><circle cx="128.9" cy="561.3" r="2.1"/><circle cx="121.8" cy="565.0" r="2.1"/><circle cx="117.8" cy="561.3" r="2.1"/><circle cx="140.3" cy="565.3" r="2.1"/><circle cx="120.0" cy="562.0" r="2.1"/><circle cx="142.9" cy="567.6" r="2.1"/><circle cx="143.9" cy="562.7" r="2.1"/><circle cx="130.8" cy="556.0" r="2.1"/><circle cx="127.3" cy="560.8" r="2.1"/><circle cx="119.3" cy="566.4" r="2.1"/><circle cx="146.3" cy="566.1" r="2.1"/><circle cx="134.5" cy="568.7" r="2.1"/><circle cx="119.5" cy="568.6" r="2.1"/><circle cx="124.4" cy="562.6" r="2.1"/><circle cx="121.7" cy="569.1" r="2.1"/><circle cx="135.0" cy="562.7" r="2.1"/><circle cx="124.1" cy="569.3" r="2.1"/><circle cx="123.8" cy="547.1" r="2.1"/><circle cx="141.0" cy="565.8" r="2.1"/><circle cx="141.2" cy="563.3" r="2.1"/><circle cx="122.8" cy="564.4" r="2.1"/><circle cx="119.5" cy="568.1" r="2.1"/><circle cx="120.5" cy="558.0" r="2.1"/><circle cx="146.6" cy="569.2" r="2.1"/><circle cx="144.4" cy="567.9" r="2.1"/><circle cx="131.3" cy="568.8" r="2.1"/><circle cx="142.4" cy="567.8" r="2.1"/><circle cx="136.7" cy="563.2" r="2.1"/><circle cx="143.7" cy="560.1" r="2.1"/><circle cx="135.5" cy="566.6" r="2.1"/><circle cx="120.4" cy="565.5" r="2.1"/><circle cx="135.2" cy="557.6" r="2.1"/><circle cx="123.4" cy="558.4" r="2.1"/><circle cx="131.3" cy="564.3" r="2.1"/><circle cx="119.4" cy="560.9" r="2.1"/><circle cx="131.9" cy="566.6" r="2.1"/><circle cx="134.0" cy="568.9" r="2.1"/><circle cx="130.0" cy="560.7" r="2.1"/><circle cx="135.6" cy="562.6" r="2.1"/><circle cx="127.8" cy="567.8" r="2.1"/><circle cx="125.2" cy="550.1" r="2.1"/><circle cx="145.5" cy="568.2" r="2.1"/><circle cx="143.8" cy="560.9" r="2.1"/><circle cx="135.8" cy="541.3" r="2.1"/><circle cx="129.9" cy="564.4" r="2.1"/><circle cx="144.7" cy="550.1" r="2.1"/><circle cx="140.7" cy="565.1" r="2.1"/><circle cx="147.6" cy="566.0" r="2.1"/><circle cx="126.0" cy="552.9" r="2.1"/><circle cx="120.0" cy="568.1" r="2.1"/><circle cx="126.1" cy="561.0" r="2.1"/><circle cx="136.6" cy="564.6" r="2.1"/><circle cx="139.9" cy="569.1" r="2.1"/><circle cx="130.3" cy="567.3" r="2.1"/><circle cx="139.8" cy="566.6" r="2.1"/><circle cx="125.8" cy="560.4" r="2.1"/><circle cx="126.2" cy="568.7" r="2.1"/><circle cx="119.4" cy="565.9" r="2.1"/><circle cx="140.4" cy="568.3" r="2.1"/><circle cx="146.9" cy="561.5" r="2.1"/><circle cx="123.7" cy="544.0" r="2.1"/><circle cx="131.2" cy="567.0" r="2.1"/><circle cx="133.6" cy="564.5" r="2.1"/><circle cx="143.1" cy="566.5" r="2.1"/><circle cx="131.2" cy="567.2" r="2.1"/><circle cx="125.8" cy="555.2" r="2.1"/><circle cx="117.4" cy="558.7" r="2.1"/><circle cx="133.3" cy="568.5" r="2.1"/><circle cx="122.1" cy="564.4" r="2.1"/><circle cx="123.3" cy="569.1" r="2.1"/><circle cx="131.3" cy="559.8" r="2.1"/><circle cx="141.1" cy="544.1" r="2.1"/><circle cx="122.7" cy="569.2" r="2.1"/><circle cx="130.3" cy="569.3" r="2.1"/><circle cx="118.6" cy="566.7" r="2.1"/><circle cx="119.9" cy="564.2" r="2.1"/><circle cx="124.6" cy="567.0" r="2.1"/><circle cx="129.8" cy="558.8" r="2.1"/><circle cx="118.4" cy="567.4" r="2.1"/><circle cx="136.3" cy="565.7" r="2.1"/><circle cx="145.0" cy="562.1" r="2.1"/><circle cx="124.6" cy="558.6" r="2.1"/><circle cx="140.3" cy="568.4" r="2.1"/><circle cx="132.6" cy="559.2" r="2.1"/><circle cx="133.9" cy="557.8" r="2.1"/><circle cx="122.2" cy="567.3" r="2.1"/><circle cx="136.7" cy="569.3" r="2.1"/><circle cx="136.6" cy="554.6" r="2.1"/><circle cx="142.0" cy="552.2" r="2.1"/><circle cx="132.9" cy="565.9" r="2.1"/><circle cx="122.6" cy="568.2" r="2.1"/><circle cx="147.4" cy="561.9" r="2.1"/><circle cx="129.5" cy="564.2" r="2.1"/><circle cx="131.0" cy="566.6" r="2.1"/><circle cx="130.9" cy="558.8" r="2.1"/><circle cx="132.9" cy="548.5" r="2.1"/><circle cx="143.1" cy="565.9" r="2.1"/><circle cx="145.5" cy="557.9" r="2.1"/><circle cx="118.0" cy="563.2" r="2.1"/><circle cx="133.9" cy="563.8" r="2.1"/><circle cx="125.6" cy="565.0" r="2.1"/><circle cx="144.9" cy="561.3" r="2.1"/><circle cx="137.5" cy="568.7" r="2.1"/><circle cx="132.8" cy="566.4" r="2.1"/><circle cx="146.4" cy="554.7" r="2.1"/><circle cx="145.2" cy="568.0" r="2.1"/><circle cx="128.8" cy="568.1" r="2.1"/><circle cx="126.7" cy="557.9" r="2.1"/><circle cx="146.1" cy="567.3" r="2.1"/><circle cx="126.8" cy="550.6" r="2.1"/></g>
<path d="M150.15,604 L150.15,572.4 L151.0,569.8 152.4,569.7 153.1,570.2 153.9,569.6 155.0,570.2 156.1,568.3 157.4,569.4 158.8,570.3 159.5,570.2 160.4,569.1 161.5,569.6 162.8,570.1 163.6,569.7 165.0,569.9 166.2,569.9 166.9,569.8 168.2,570.0 169.5,569.7 170.8,567.8 171.8,569.5 172.8,569.5 174.2,569.6 175.1,569.9 175.9,569.9 176.8,569.9 177.7,570.1 179.0,567.4 179.9,570.2 180.8,569.1 182.0,569.9 183.0,569.3 L184.45,572.4 L184.45,604 Z" fill="#85c7e8"/>
<g fill="#85c7e8"><circle cx="169.5" cy="559.5" r="2.1"/><circle cx="168.5" cy="565.3" r="2.1"/><circle cx="168.4" cy="565.6" r="2.1"/><circle cx="157.9" cy="557.7" r="2.1"/><circle cx="180.9" cy="563.5" r="2.1"/><circle cx="157.2" cy="557.1" r="2.1"/><circle cx="159.5" cy="557.4" r="2.1"/><circle cx="182.4" cy="569.0" r="2.1"/><circle cx="179.0" cy="566.0" r="2.1"/><circle cx="152.0" cy="568.6" r="2.1"/><circle cx="176.6" cy="556.1" r="2.1"/><circle cx="168.1" cy="561.9" r="2.1"/><circle cx="154.5" cy="559.9" r="2.1"/><circle cx="165.4" cy="564.3" r="2.1"/><circle cx="170.5" cy="568.4" r="2.1"/><circle cx="167.5" cy="566.9" r="2.1"/><circle cx="161.6" cy="566.3" r="2.1"/><circle cx="170.5" cy="566.5" r="2.1"/><circle cx="181.0" cy="543.7" r="2.1"/><circle cx="160.6" cy="557.6" r="2.1"/><circle cx="167.3" cy="544.9" r="2.1"/><circle cx="162.3" cy="560.8" r="2.1"/><circle cx="160.4" cy="562.6" r="2.1"/><circle cx="168.1" cy="547.2" r="2.1"/><circle cx="182.6" cy="555.8" r="2.1"/><circle cx="171.0" cy="565.6" r="2.1"/><circle cx="165.0" cy="568.9" r="2.1"/><circle cx="176.6" cy="557.1" r="2.1"/><circle cx="182.5" cy="566.2" r="2.1"/><circle cx="158.3" cy="566.4" r="2.1"/><circle cx="179.4" cy="564.2" r="2.1"/><circle cx="178.9" cy="565.7" r="2.1"/><circle cx="162.9" cy="561.3" r="2.1"/><circle cx="167.5" cy="567.1" r="2.1"/><circle cx="163.3" cy="566.1" r="2.1"/><circle cx="179.1" cy="562.5" r="2.1"/><circle cx="156.2" cy="563.7" r="2.1"/><circle cx="163.2" cy="567.8" r="2.1"/><circle cx="155.9" cy="563.2" r="2.1"/><circle cx="161.7" cy="568.8" r="2.1"/><circle cx="152.5" cy="567.2" r="2.1"/><circle cx="180.6" cy="564.3" r="2.1"/><circle cx="174.8" cy="564.4" r="2.1"/><circle cx="177.9" cy="557.9" r="2.1"/><circle cx="165.5" cy="553.5" r="2.1"/><circle cx="179.3" cy="568.6" r="2.1"/><circle cx="166.5" cy="566.3" r="2.1"/><circle cx="175.8" cy="555.0" r="2.1"/><circle cx="154.2" cy="563.4" r="2.1"/><circle cx="162.6" cy="569.2" r="2.1"/><circle cx="177.8" cy="569.3" r="2.1"/><circle cx="160.2" cy="568.1" r="2.1"/><circle cx="167.7" cy="566.2" r="2.1"/><circle cx="171.4" cy="565.7" r="2.1"/><circle cx="165.3" cy="562.4" r="2.1"/><circle cx="182.4" cy="568.7" r="2.1"/><circle cx="154.2" cy="561.7" r="2.1"/><circle cx="175.3" cy="565.6" r="2.1"/><circle cx="166.8" cy="538.1" r="2.1"/><circle cx="179.7" cy="565.8" r="2.1"/><circle cx="162.0" cy="558.0" r="2.1"/><circle cx="169.9" cy="565.9" r="2.1"/><circle cx="156.5" cy="555.3" r="2.1"/><circle cx="152.4" cy="562.7" r="2.1"/><circle cx="168.0" cy="551.6" r="2.1"/><circle cx="158.9" cy="568.8" r="2.1"/><circle cx="178.6" cy="565.3" r="2.1"/><circle cx="160.5" cy="564.3" r="2.1"/><circle cx="172.4" cy="543.2" r="2.1"/><circle cx="161.0" cy="567.9" r="2.1"/><circle cx="155.7" cy="554.4" r="2.1"/><circle cx="162.7" cy="563.1" r="2.1"/><circle cx="180.2" cy="559.8" r="2.1"/><circle cx="155.7" cy="556.7" r="2.1"/><circle cx="161.4" cy="565.7" r="2.1"/><circle cx="179.0" cy="568.0" r="2.1"/><circle cx="177.5" cy="567.8" r="2.1"/><circle cx="155.3" cy="551.3" r="2.1"/><circle cx="158.2" cy="566.1" r="2.1"/><circle cx="152.7" cy="568.1" r="2.1"/><circle cx="163.7" cy="564.9" r="2.1"/><circle cx="164.7" cy="557.0" r="2.1"/><circle cx="157.1" cy="566.2" r="2.1"/><circle cx="159.8" cy="567.5" r="2.1"/><circle cx="162.3" cy="561.7" r="2.1"/><circle cx="158.5" cy="568.6" r="2.1"/><circle cx="169.3" cy="565.6" r="2.1"/><circle cx="173.6" cy="567.6" r="2.1"/><circle cx="172.7" cy="567.8" r="2.1"/><circle cx="157.1" cy="563.3" r="2.1"/><circle cx="164.0" cy="560.3" r="2.1"/><circle cx="170.4" cy="564.3" r="2.1"/><circle cx="165.5" cy="562.9" r="2.1"/><circle cx="176.3" cy="569.0" r="2.1"/><circle cx="167.0" cy="556.6" r="2.1"/><circle cx="179.9" cy="567.4" r="2.1"/><circle cx="158.5" cy="561.8" r="2.1"/><circle cx="182.6" cy="558.3" r="2.1"/><circle cx="182.9" cy="566.6" r="2.1"/><circle cx="157.2" cy="565.1" r="2.1"/><circle cx="162.2" cy="561.2" r="2.1"/><circle cx="169.9" cy="560.8" r="2.1"/><circle cx="168.2" cy="568.7" r="2.1"/><circle cx="166.6" cy="557.0" r="2.1"/><circle cx="169.5" cy="556.4" r="2.1"/><circle cx="157.9" cy="558.1" r="2.1"/><circle cx="175.5" cy="568.8" r="2.1"/><circle cx="161.1" cy="564.2" r="2.1"/><circle cx="179.4" cy="554.9" r="2.1"/><circle cx="177.9" cy="540.3" r="2.1"/><circle cx="151.9" cy="567.2" r="2.1"/><circle cx="174.7" cy="562.0" r="2.1"/><circle cx="166.6" cy="566.6" r="2.1"/></g>
<path d="M185.15,604 L185.15,572.4 L186.0,570.2 187.1,570.3 188.2,568.7 189.2,569.3 190.1,569.4 191.3,569.8 192.1,569.4 193.1,569.8 193.9,570.1 194.9,569.9 195.7,569.1 196.5,568.0 197.8,569.7 198.8,570.0 199.7,570.1 200.7,569.8 202.0,570.1 203.1,569.5 204.4,570.0 205.3,569.2 206.1,569.7 207.0,568.5 208.2,570.1 209.5,569.0 210.7,569.3 211.6,567.6 212.5,569.5 213.7,569.5 214.6,569.0 215.7,568.8 216.9,568.8 218.0,569.9 L219.35,572.4 L219.35,604 Z" fill="#bdbdbd"/>
<g fill="#bdbdbd"><circle cx="203.6" cy="567.5" r="2.1"/><circle cx="198.7" cy="563.7" r="2.1"/><circle cx="191.9" cy="569.1" r="2.1"/><circle cx="193.2" cy="562.7" r="2.1"/><circle cx="202.4" cy="560.1" r="2.1"/><circle cx="213.2" cy="549.4" r="2.1"/><circle cx="187.9" cy="566.4" r="2.1"/><circle cx="210.0" cy="564.1" r="2.1"/><circle cx="214.8" cy="552.8" r="2.1"/><circle cx="201.8" cy="560.6" r="2.1"/><circle cx="191.2" cy="560.6" r="2.1"/><circle cx="207.5" cy="564.3" r="2.1"/><circle cx="191.6" cy="563.4" r="2.1"/><circle cx="206.2" cy="568.4" r="2.1"/><circle cx="191.3" cy="555.3" r="2.1"/><circle cx="198.8" cy="559.4" r="2.1"/><circle cx="217.8" cy="565.4" r="2.1"/><circle cx="194.8" cy="563.2" r="2.1"/><circle cx="186.6" cy="561.5" r="2.1"/><circle cx="208.5" cy="567.2" r="2.1"/><circle cx="187.6" cy="568.2" r="2.1"/><circle cx="196.8" cy="564.6" r="2.1"/><circle cx="189.7" cy="546.3" r="2.1"/><circle cx="211.8" cy="566.2" r="2.1"/><circle cx="207.5" cy="565.6" r="2.1"/><circle cx="193.6" cy="566.8" r="2.1"/><circle cx="211.7" cy="565.5" r="2.1"/><circle cx="193.8" cy="566.6" r="2.1"/><circle cx="189.6" cy="565.9" r="2.1"/><circle cx="204.5" cy="566.9" r="2.1"/><circle cx="205.3" cy="564.3" r="2.1"/><circle cx="187.3" cy="567.2" r="2.1"/><circle cx="197.2" cy="569.2" r="2.1"/><circle cx="204.4" cy="568.0" r="2.1"/><circle cx="210.5" cy="567.4" r="2.1"/><circle cx="207.3" cy="563.4" r="2.1"/><circle cx="202.9" cy="560.7" r="2.1"/><circle cx="196.2" cy="565.8" r="2.1"/><circle cx="211.5" cy="569.0" r="2.1"/><circle cx="189.7" cy="564.9" r="2.1"/><circle cx="204.8" cy="552.4" r="2.1"/><circle cx="190.5" cy="565.6" r="2.1"/><circle cx="198.1" cy="553.8" r="2.1"/><circle cx="202.2" cy="568.5" r="2.1"/><circle cx="194.3" cy="565.1" r="2.1"/><circle cx="201.6" cy="552.5" r="2.1"/><circle cx="208.8" cy="569.4" r="2.1"/><circle cx="206.8" cy="556.1" r="2.1"/><circle cx="201.4" cy="567.0" r="2.1"/><circle cx="196.1" cy="567.1" r="2.1"/><circle cx="206.2" cy="568.5" r="2.1"/><circle cx="216.8" cy="568.8" r="2.1"/><circle cx="216.8" cy="569.1" r="2.1"/><circle cx="189.2" cy="568.0" r="2.1"/><circle cx="203.2" cy="560.5" r="2.1"/><circle cx="202.5" cy="559.8" r="2.1"/><circle cx="189.1" cy="562.9" r="2.1"/><circle cx="202.6" cy="562.1" r="2.1"/><circle cx="206.9" cy="548.0" r="2.1"/><circle cx="199.8" cy="552.4" r="2.1"/><circle cx="198.8" cy="564.0" r="2.1"/><circle cx="205.4" cy="565.3" r="2.1"/><circle cx="196.1" cy="569.2" r="2.1"/><circle cx="194.7" cy="560.7" r="2.1"/><circle cx="194.6" cy="565.2" r="2.1"/><circle cx="207.0" cy="566.5" r="2.1"/><circle cx="216.6" cy="560.5" r="2.1"/><circle cx="192.9" cy="565.2" r="2.1"/><circle cx="188.4" cy="566.7" r="2.1"/><circle cx="204.9" cy="567.6" r="2.1"/><circle cx="194.1" cy="563.2" r="2.1"/><circle cx="189.6" cy="568.1" r="2.1"/><circle cx="202.3" cy="568.1" r="2.1"/><circle cx="214.3" cy="567.5" r="2.1"/><circle cx="197.2" cy="564.0" r="2.1"/><circle cx="187.8" cy="565.7" r="2.1"/><circle cx="210.1" cy="560.8" r="2.1"/><circle cx="209.3" cy="566.4" r="2.1"/><circle cx="193.4" cy="567.3" r="2.1"/><circle cx="192.7" cy="567.7" r="2.1"/><circle cx="206.7" cy="563.3" r="2.1"/><circle cx="189.8" cy="560.9" r="2.1"/><circle cx="201.6" cy="559.9" r="2.1"/><circle cx="202.3" cy="566.3" r="2.1"/><circle cx="192.8" cy="565.7" r="2.1"/><circle cx="206.8" cy="566.1" r="2.1"/><circle cx="215.3" cy="561.2" r="2.1"/><circle cx="214.5" cy="568.0" r="2.1"/><circle cx="208.9" cy="558.9" r="2.1"/><circle cx="190.9" cy="544.0" r="2.1"/><circle cx="190.4" cy="554.4" r="2.1"/><circle cx="195.8" cy="550.2" r="2.1"/><circle cx="194.8" cy="554.0" r="2.1"/><circle cx="199.8" cy="557.8" r="2.1"/><circle cx="200.5" cy="566.9" r="2.1"/><circle cx="214.0" cy="552.2" r="2.1"/><circle cx="198.7" cy="566.9" r="2.1"/><circle cx="212.4" cy="545.1" r="2.1"/><circle cx="193.5" cy="567.6" r="2.1"/><circle cx="193.8" cy="551.3" r="2.1"/><circle cx="196.1" cy="566.8" r="2.1"/><circle cx="203.6" cy="567.8" r="2.1"/><circle cx="199.1" cy="564.0" r="2.1"/><circle cx="195.9" cy="564.8" r="2.1"/><circle cx="215.9" cy="557.5" r="2.1"/><circle cx="212.3" cy="560.3" r="2.1"/><circle cx="194.4" cy="568.9" r="2.1"/><circle cx="191.4" cy="567.9" r="2.1"/><circle cx="215.0" cy="546.9" r="2.1"/><circle cx="190.2" cy="564.1" r="2.1"/><circle cx="188.3" cy="565.8" r="2.1"/><circle cx="213.9" cy="554.1" r="2.1"/></g>
<path d="M220.15,604 L220.15,572.4 L221.0,569.3 221.8,569.5 223.0,569.9 223.8,569.4 224.7,569.7 225.9,569.6 226.7,569.8 227.8,568.2 228.7,570.0 229.5,570.0 230.5,569.8 231.5,569.5 232.4,569.8 233.5,570.1 234.7,569.2 235.8,569.8 237.0,569.9 238.1,569.4 239.4,569.4 240.3,569.6 241.0,569.5 242.1,569.1 243.1,570.1 244.2,570.1 245.6,569.6 246.3,569.9 247.6,569.8 248.5,569.1 249.8,569.7 L251.85,572.4 L251.85,604 Z" fill="#85c7e8"/>
<g fill="#85c7e8"><circle cx="233.1" cy="555.7" r="2.1"/><circle cx="243.4" cy="568.7" r="2.1"/><circle cx="243.1" cy="565.5" r="2.1"/><circle cx="250.4" cy="559.0" r="2.1"/><circle cx="246.8" cy="562.0" r="2.1"/><circle cx="223.9" cy="564.2" r="2.1"/><circle cx="243.8" cy="554.9" r="2.1"/><circle cx="240.7" cy="567.2" r="2.1"/><circle cx="227.6" cy="569.2" r="2.1"/><circle cx="222.6" cy="561.2" r="2.1"/><circle cx="248.6" cy="564.7" r="2.1"/><circle cx="241.9" cy="567.8" r="2.1"/><circle cx="239.5" cy="560.5" r="2.1"/><circle cx="241.7" cy="559.9" r="2.1"/><circle cx="227.1" cy="569.3" r="2.1"/><circle cx="249.6" cy="564.4" r="2.1"/><circle cx="238.5" cy="567.8" r="2.1"/><circle cx="246.0" cy="568.5" r="2.1"/><circle cx="236.6" cy="565.6" r="2.1"/><circle cx="225.5" cy="562.2" r="2.1"/><circle cx="244.7" cy="560.9" r="2.1"/><circle cx="228.1" cy="556.6" r="2.1"/><circle cx="236.5" cy="554.4" r="2.1"/><circle cx="230.7" cy="561.6" r="2.1"/><circle cx="243.7" cy="566.7" r="2.1"/><circle cx="230.1" cy="559.6" r="2.1"/><circle cx="248.4" cy="568.9" r="2.1"/><circle cx="238.7" cy="560.9" r="2.1"/><circle cx="249.3" cy="566.0" r="2.1"/><circle cx="227.8" cy="565.7" r="2.1"/><circle cx="231.7" cy="568.7" r="2.1"/><circle cx="232.1" cy="563.4" r="2.1"/><circle cx="239.8" cy="550.2" r="2.1"/><circle cx="239.4" cy="563.4" r="2.1"/><circle cx="236.7" cy="564.9" r="2.1"/><circle cx="245.6" cy="565.0" r="2.1"/><circle cx="244.2" cy="568.0" r="2.1"/><circle cx="246.1" cy="567.1" r="2.1"/><circle cx="235.6" cy="568.9" r="2.1"/><circle cx="242.1" cy="565.6" r="2.1"/><circle cx="229.1" cy="567.9" r="2.1"/><circle cx="237.8" cy="568.5" r="2.1"/><circle cx="221.6" cy="563.8" r="2.1"/><circle cx="227.3" cy="568.1" r="2.1"/><circle cx="234.7" cy="548.8" r="2.1"/><circle cx="240.6" cy="567.2" r="2.1"/><circle cx="240.9" cy="558.5" r="2.1"/><circle cx="234.3" cy="569.4" r="2.1"/><circle cx="222.8" cy="565.0" r="2.1"/><circle cx="230.8" cy="559.2" r="2.1"/><circle cx="239.6" cy="567.1" r="2.1"/><circle cx="235.9" cy="563.7" r="2.1"/><circle cx="225.7" cy="556.6" r="2.1"/><circle cx="232.1" cy="564.1" r="2.1"/><circle cx="231.6" cy="564.4" r="2.1"/><circle cx="222.6" cy="569.4" r="2.1"/><circle cx="224.3" cy="568.3" r="2.1"/><circle cx="241.0" cy="557.0" r="2.1"/><circle cx="223.3" cy="562.8" r="2.1"/><circle cx="228.2" cy="560.3" r="2.1"/><circle cx="244.6" cy="554.4" r="2.1"/><circle cx="238.3" cy="558.3" r="2.1"/><circle cx="233.9" cy="568.3" r="2.1"/><circle cx="223.2" cy="561.5" r="2.1"/><circle cx="245.9" cy="552.8" r="2.1"/><circle cx="239.4" cy="561.6" r="2.1"/><circle cx="227.1" cy="545.3" r="2.1"/><circle cx="244.6" cy="568.1" r="2.1"/><circle cx="243.1" cy="568.7" r="2.1"/><circle cx="246.9" cy="566.1" r="2.1"/><circle cx="241.4" cy="560.1" r="2.1"/><circle cx="232.9" cy="557.2" r="2.1"/><circle cx="240.9" cy="565.7" r="2.1"/><circle cx="242.9" cy="555.6" r="2.1"/><circle cx="231.9" cy="561.6" r="2.1"/><circle cx="243.2" cy="564.8" r="2.1"/><circle cx="232.2" cy="558.4" r="2.1"/><circle cx="239.3" cy="566.5" r="2.1"/><circle cx="247.1" cy="567.7" r="2.1"/><circle cx="240.3" cy="569.4" r="2.1"/><circle cx="227.2" cy="565.1" r="2.1"/><circle cx="235.3" cy="563.9" r="2.1"/><circle cx="247.1" cy="548.1" r="2.1"/><circle cx="243.8" cy="556.0" r="2.1"/><circle cx="250.2" cy="557.7" r="2.1"/><circle cx="232.9" cy="560.1" r="2.1"/><circle cx="240.4" cy="567.9" r="2.1"/><circle cx="243.4" cy="567.9" r="2.1"/><circle cx="245.4" cy="563.8" r="2.1"/><circle cx="230.3" cy="566.5" r="2.1"/><circle cx="237.4" cy="554.1" r="2.1"/><circle cx="240.1" cy="565.7" r="2.1"/><circle cx="229.8" cy="564.7" r="2.1"/><circle cx="247.1" cy="544.0" r="2.1"/><circle cx="227.2" cy="567.3" r="2.1"/><circle cx="245.3" cy="560.8" r="2.1"/><circle cx="227.7" cy="562.5" r="2.1"/><circle cx="236.7" cy="561.1" r="2.1"/><circle cx="238.6" cy="566.3" r="2.1"/><circle cx="240.3" cy="565.5" r="2.1"/><circle cx="250.0" cy="560.3" r="2.1"/><circle cx="238.1" cy="568.6" r="2.1"/><circle cx="240.5" cy="550.4" r="2.1"/><circle cx="222.5" cy="556.9" r="2.1"/></g>
<path d="M252.55,604 L252.55,572.4 L253.4,569.3 254.3,569.3 255.5,569.4 256.3,569.4 257.7,569.9 258.9,569.2 259.9,569.7 261.2,570.2 262.4,570.3 263.7,569.9 264.4,569.2 265.1,569.8 266.1,569.2 267.1,569.3 268.3,568.9 269.3,568.5 270.1,569.9 270.9,570.2 272.2,569.3 273.5,569.4 274.6,569.3 275.9,568.9 277.0,569.6 278.0,569.6 279.4,570.2 280.2,570.3 281.0,570.1 281.9,569.6 283.1,568.9 284.1,567.8 285.5,570.0 L287.55,572.4 L287.55,604 Z" fill="#bdbdbd"/>
<g fill="#bdbdbd"><circle cx="261.1" cy="565.9" r="2.1"/><circle cx="276.6" cy="569.1" r="2.1"/><circle cx="263.7" cy="564.0" r="2.1"/><circle cx="260.3" cy="557.7" r="2.1"/><circle cx="256.8" cy="565.6" r="2.1"/><circle cx="282.4" cy="566.6" r="2.1"/><circle cx="258.9" cy="564.9" r="2.1"/><circle cx="274.7" cy="567.6" r="2.1"/><circle cx="282.5" cy="567.3" r="2.1"/><circle cx="281.9" cy="569.0" r="2.1"/><circle cx="280.4" cy="563.1" r="2.1"/><circle cx="256.2" cy="566.5" r="2.1"/><circle cx="274.1" cy="568.2" r="2.1"/><circle cx="257.5" cy="569.2" r="2.1"/><circle cx="282.2" cy="559.5" r="2.1"/><circle cx="280.9" cy="556.8" r="2.1"/><circle cx="276.4" cy="555.8" r="2.1"/><circle cx="254.7" cy="565.8" r="2.1"/><circle cx="262.0" cy="568.8" r="2.1"/><circle cx="257.8" cy="565.4" r="2.1"/><circle cx="272.5" cy="546.4" r="2.1"/><circle cx="261.2" cy="554.8" r="2.1"/><circle cx="278.2" cy="548.7" r="2.1"/><circle cx="272.8" cy="555.0" r="2.1"/><circle cx="261.5" cy="568.6" r="2.1"/><circle cx="277.9" cy="565.9" r="2.1"/><circle cx="283.8" cy="568.8" r="2.1"/><circle cx="285.2" cy="569.2" r="2.1"/><circle cx="280.3" cy="567.6" r="2.1"/><circle cx="284.7" cy="558.3" r="2.1"/><circle cx="276.5" cy="565.3" r="2.1"/><circle cx="280.8" cy="567.1" r="2.1"/><circle cx="282.4" cy="568.6" r="2.1"/><circle cx="255.9" cy="563.5" r="2.1"/><circle cx="263.5" cy="550.9" r="2.1"/><circle cx="263.0" cy="569.2" r="2.1"/><circle cx="285.8" cy="561.3" r="2.1"/><circle cx="281.4" cy="562.9" r="2.1"/><circle cx="277.0" cy="558.1" r="2.1"/><circle cx="262.1" cy="566.2" r="2.1"/><circle cx="271.6" cy="568.3" r="2.1"/><circle cx="277.8" cy="567.9" r="2.1"/><circle cx="272.6" cy="566.9" r="2.1"/><circle cx="274.2" cy="564.2" r="2.1"/><circle cx="262.2" cy="568.3" r="2.1"/><circle cx="260.8" cy="561.8" r="2.1"/><circle cx="285.0" cy="562.1" r="2.1"/><circle cx="284.9" cy="566.2" r="2.1"/><circle cx="284.4" cy="563.2" r="2.1"/><circle cx="278.2" cy="564.5" r="2.1"/><circle cx="260.2" cy="561.9" r="2.1"/><circle cx="272.7" cy="564.6" r="2.1"/><circle cx="275.2" cy="565.3" r="2.1"/><circle cx="279.5" cy="553.8" r="2.1"/><circle cx="276.6" cy="568.4" r="2.1"/><circle cx="284.2" cy="563.0" r="2.1"/><circle cx="259.5" cy="569.4" r="2.1"/><circle cx="265.9" cy="545.2" r="2.1"/><circle cx="266.8" cy="563.6" r="2.1"/><circle cx="272.1" cy="565.6" r="2.1"/><circle cx="271.1" cy="541.9" r="2.1"/><circle cx="276.9" cy="567.0" r="2.1"/><circle cx="277.9" cy="563.3" r="2.1"/><circle cx="256.5" cy="555.6" r="2.1"/><circle cx="262.3" cy="563.3" r="2.1"/><circle cx="257.1" cy="565.3" r="2.1"/><circle cx="280.9" cy="567.7" r="2.1"/><circle cx="281.8" cy="561.3" r="2.1"/><circle cx="257.4" cy="568.2" r="2.1"/><circle cx="269.9" cy="566.3" r="2.1"/><circle cx="263.6" cy="561.3" r="2.1"/><circle cx="272.8" cy="560.7" r="2.1"/><circle cx="279.3" cy="567.2" r="2.1"/><circle cx="273.0" cy="568.9" r="2.1"/><circle cx="255.3" cy="568.0" r="2.1"/><circle cx="270.7" cy="565.2" r="2.1"/><circle cx="266.0" cy="563.2" r="2.1"/><circle cx="256.7" cy="552.1" r="2.1"/><circle cx="261.3" cy="548.3" r="2.1"/><circle cx="259.6" cy="561.5" r="2.1"/><circle cx="275.7" cy="566.4" r="2.1"/><circle cx="275.0" cy="566.6" r="2.1"/><circle cx="279.5" cy="550.1" r="2.1"/><circle cx="263.9" cy="563.0" r="2.1"/><circle cx="274.9" cy="562.7" r="2.1"/><circle cx="269.8" cy="563.6" r="2.1"/><circle cx="260.5" cy="560.3" r="2.1"/><circle cx="285.5" cy="561.2" r="2.1"/><circle cx="262.1" cy="569.2" r="2.1"/><circle cx="256.6" cy="541.7" r="2.1"/><circle cx="256.2" cy="563.7" r="2.1"/><circle cx="254.2" cy="562.9" r="2.1"/><circle cx="263.7" cy="557.1" r="2.1"/><circle cx="260.7" cy="554.5" r="2.1"/><circle cx="257.0" cy="560.1" r="2.1"/><circle cx="257.7" cy="568.9" r="2.1"/><circle cx="268.6" cy="556.6" r="2.1"/><circle cx="267.3" cy="564.2" r="2.1"/><circle cx="279.8" cy="550.2" r="2.1"/><circle cx="259.6" cy="567.6" r="2.1"/><circle cx="264.1" cy="557.6" r="2.1"/><circle cx="265.5" cy="554.9" r="2.1"/><circle cx="282.1" cy="568.7" r="2.1"/><circle cx="265.0" cy="565.6" r="2.1"/><circle cx="261.2" cy="568.1" r="2.1"/><circle cx="258.2" cy="555.9" r="2.1"/><circle cx="270.7" cy="563.0" r="2.1"/><circle cx="266.7" cy="564.8" r="2.1"/><circle cx="280.4" cy="568.0" r="2.1"/><circle cx="281.2" cy="554.6" r="2.1"/><circle cx="259.5" cy="567.9" r="2.1"/><circle cx="280.7" cy="563.0" r="2.1"/><circle cx="257.5" cy="563.9" r="2.1"/><circle cx="283.2" cy="544.2" r="2.1"/><circle cx="278.3" cy="559.2" r="2.1"/></g>
<path d="M288.25,604 L288.25,572.4 L289.1,569.6 289.9,569.7 290.6,569.4 291.8,570.0 292.8,570.1 294.2,569.8 295.4,569.5 296.4,568.2 297.7,570.3 298.9,569.7 300.0,568.8 301.1,569.5 301.9,569.9 303.2,570.0 304.6,569.9 305.7,569.9 306.5,569.4 307.4,569.9 308.7,569.6 309.7,569.8 310.7,569.9 311.5,569.5 312.4,569.3 313.5,570.1 314.4,569.4 315.7,569.3 317.0,569.8 L318.45,572.4 L318.45,604 Z" fill="#85c7e8"/>
<g fill="#85c7e8"><circle cx="317.0" cy="567.5" r="2.1"/><circle cx="293.4" cy="568.6" r="2.1"/><circle cx="301.7" cy="569.3" r="2.1"/><circle cx="310.0" cy="556.6" r="2.1"/><circle cx="290.1" cy="568.9" r="2.1"/><circle cx="292.1" cy="562.3" r="2.1"/><circle cx="293.6" cy="564.5" r="2.1"/><circle cx="313.0" cy="563.4" r="2.1"/><circle cx="297.1" cy="565.5" r="2.1"/><circle cx="308.8" cy="563.0" r="2.1"/><circle cx="296.2" cy="569.0" r="2.1"/><circle cx="303.5" cy="566.3" r="2.1"/><circle cx="307.7" cy="567.3" r="2.1"/><circle cx="314.4" cy="567.5" r="2.1"/><circle cx="295.7" cy="566.6" r="2.1"/><circle cx="293.1" cy="568.9" r="2.1"/><circle cx="313.8" cy="567.8" r="2.1"/><circle cx="301.8" cy="565.9" r="2.1"/><circle cx="316.1" cy="548.5" r="2.1"/><circle cx="298.6" cy="567.6" r="2.1"/><circle cx="296.7" cy="564.8" r="2.1"/><circle cx="295.5" cy="566.6" r="2.1"/><circle cx="310.2" cy="567.6" r="2.1"/><circle cx="301.9" cy="563.4" r="2.1"/><circle cx="306.5" cy="565.2" r="2.1"/><circle cx="290.3" cy="561.9" r="2.1"/><circle cx="313.5" cy="557.3" r="2.1"/><circle cx="299.3" cy="560.2" r="2.1"/><circle cx="301.6" cy="569.2" r="2.1"/><circle cx="299.9" cy="565.6" r="2.1"/><circle cx="305.5" cy="568.7" r="2.1"/><circle cx="310.5" cy="567.5" r="2.1"/><circle cx="297.7" cy="564.5" r="2.1"/><circle cx="301.9" cy="558.0" r="2.1"/><circle cx="297.3" cy="568.8" r="2.1"/><circle cx="301.4" cy="569.0" r="2.1"/><circle cx="315.4" cy="553.8" r="2.1"/><circle cx="296.2" cy="568.3" r="2.1"/><circle cx="299.9" cy="567.9" r="2.1"/><circle cx="290.3" cy="562.8" r="2.1"/><circle cx="301.3" cy="565.0" r="2.1"/><circle cx="312.3" cy="562.3" r="2.1"/><circle cx="306.2" cy="566.1" r="2.1"/><circle cx="302.1" cy="567.3" r="2.1"/><circle cx="291.1" cy="562.8" r="2.1"/><circle cx="303.4" cy="564.7" r="2.1"/><circle cx="296.5" cy="568.1" r="2.1"/><circle cx="299.2" cy="558.1" r="2.1"/><circle cx="297.4" cy="568.0" r="2.1"/><circle cx="300.6" cy="564.6" r="2.1"/><circle cx="298.5" cy="566.6" r="2.1"/><circle cx="303.5" cy="567.8" r="2.1"/><circle cx="292.1" cy="563.4" r="2.1"/><circle cx="298.1" cy="563.6" r="2.1"/><circle cx="307.7" cy="544.3" r="2.1"/><circle cx="292.7" cy="566.6" r="2.1"/><circle cx="314.5" cy="555.8" r="2.1"/><circle cx="316.4" cy="562.8" r="2.1"/><circle cx="308.2" cy="564.1" r="2.1"/><circle cx="313.2" cy="562.5" r="2.1"/><circle cx="304.4" cy="556.8" r="2.1"/><circle cx="299.3" cy="563.6" r="2.1"/><circle cx="312.9" cy="556.5" r="2.1"/><circle cx="308.7" cy="564.4" r="2.1"/><circle cx="311.8" cy="568.0" r="2.1"/><circle cx="314.4" cy="568.5" r="2.1"/><circle cx="297.2" cy="563.0" r="2.1"/><circle cx="306.1" cy="568.0" r="2.1"/><circle cx="308.7" cy="565.3" r="2.1"/><circle cx="313.6" cy="568.7" r="2.1"/><circle cx="301.7" cy="565.7" r="2.1"/><circle cx="306.3" cy="560.6" r="2.1"/><circle cx="297.7" cy="565.6" r="2.1"/><circle cx="290.5" cy="565.3" r="2.1"/><circle cx="312.3" cy="567.5" r="2.1"/><circle cx="292.0" cy="568.6" r="2.1"/><circle cx="299.9" cy="557.1" r="2.1"/><circle cx="309.3" cy="563.6" r="2.1"/><circle cx="310.7" cy="566.9" r="2.1"/><circle cx="312.9" cy="569.4" r="2.1"/><circle cx="306.8" cy="567.0" r="2.1"/><circle cx="310.2" cy="567.0" r="2.1"/><circle cx="306.2" cy="566.3" r="2.1"/><circle cx="312.5" cy="566.9" r="2.1"/><circle cx="295.2" cy="559.6" r="2.1"/><circle cx="315.5" cy="560.2" r="2.1"/><circle cx="294.9" cy="567.6" r="2.1"/><circle cx="309.5" cy="552.0" r="2.1"/><circle cx="296.9" cy="552.1" r="2.1"/><circle cx="311.2" cy="567.1" r="2.1"/><circle cx="302.6" cy="564.8" r="2.1"/><circle cx="307.5" cy="568.5" r="2.1"/><circle cx="297.6" cy="561.5" r="2.1"/><circle cx="292.1" cy="569.1" r="2.1"/><circle cx="317.0" cy="567.4" r="2.1"/><circle cx="314.2" cy="560.5" r="2.1"/><circle cx="293.3" cy="560.4" r="2.1"/><circle cx="315.7" cy="566.2" r="2.1"/><circle cx="316.8" cy="557.0" r="2.1"/></g>
<path d="M319.35,604 L319.35,572.4 L320.2,569.9 321.5,568.6 322.5,569.4 323.3,570.1 324.1,569.6 325.0,569.8 325.8,569.5 326.9,569.3 328.3,569.6 329.0,569.9 330.4,569.3 331.6,569.2 332.3,569.5 333.5,569.8 334.5,570.3 335.3,569.4 336.2,570.1 337.0,569.2 338.0,569.4 339.1,569.9 340.4,569.1 341.3,568.8 342.6,569.1 343.3,569.8 344.1,570.2 345.3,568.2 346.3,569.8 347.5,570.2 348.9,569.9 350.2,568.9 351.3,569.8 352.5,569.7 L354.45,572.4 L354.45,604 Z" fill="#bdbdbd"/>
<g fill="#bdbdbd"><circle cx="333.7" cy="555.7" r="2.1"/><circle cx="332.9" cy="558.5" r="2.1"/><circle cx="333.2" cy="560.2" r="2.1"/><circle cx="320.8" cy="567.9" r="2.1"/><circle cx="345.1" cy="561.0" r="2.1"/><circle cx="322.8" cy="569.1" r="2.1"/><circle cx="327.5" cy="566.9" r="2.1"/><circle cx="326.9" cy="560.8" r="2.1"/><circle cx="338.5" cy="563.7" r="2.1"/><circle cx="348.4" cy="566.6" r="2.1"/><circle cx="337.3" cy="565.6" r="2.1"/><circle cx="333.8" cy="562.2" r="2.1"/><circle cx="351.5" cy="568.1" r="2.1"/><circle cx="338.4" cy="560.3" r="2.1"/><circle cx="340.7" cy="564.9" r="2.1"/><circle cx="323.1" cy="567.1" r="2.1"/><circle cx="349.8" cy="564.3" r="2.1"/><circle cx="352.4" cy="568.7" r="2.1"/><circle cx="353.0" cy="566.3" r="2.1"/><circle cx="329.5" cy="559.8" r="2.1"/><circle cx="349.4" cy="567.8" r="2.1"/><circle cx="346.8" cy="544.0" r="2.1"/><circle cx="346.0" cy="564.3" r="2.1"/><circle cx="347.7" cy="558.1" r="2.1"/><circle cx="347.5" cy="567.2" r="2.1"/><circle cx="328.5" cy="549.4" r="2.1"/><circle cx="334.5" cy="562.5" r="2.1"/><circle cx="341.5" cy="553.1" r="2.1"/><circle cx="337.7" cy="568.3" r="2.1"/><circle cx="350.4" cy="561.3" r="2.1"/><circle cx="329.3" cy="554.3" r="2.1"/><circle cx="328.3" cy="544.2" r="2.1"/><circle cx="331.3" cy="560.8" r="2.1"/><circle cx="347.5" cy="561.4" r="2.1"/><circle cx="322.0" cy="558.6" r="2.1"/><circle cx="346.5" cy="561.8" r="2.1"/><circle cx="348.7" cy="561.5" r="2.1"/><circle cx="340.6" cy="558.3" r="2.1"/><circle cx="331.1" cy="556.3" r="2.1"/><circle cx="347.0" cy="551.8" r="2.1"/><circle cx="346.3" cy="561.9" r="2.1"/><circle cx="337.2" cy="565.3" r="2.1"/><circle cx="327.2" cy="568.9" r="2.1"/><circle cx="338.1" cy="568.3" r="2.1"/><circle cx="323.1" cy="564.5" r="2.1"/><circle cx="324.0" cy="562.8" r="2.1"/><circle cx="321.6" cy="566.2" r="2.1"/><circle cx="325.4" cy="565.2" r="2.1"/><circle cx="332.4" cy="551.0" r="2.1"/><circle cx="331.3" cy="565.6" r="2.1"/><circle cx="329.6" cy="557.4" r="2.1"/><circle cx="352.9" cy="562.7" r="2.1"/><circle cx="322.4" cy="561.5" r="2.1"/><circle cx="351.5" cy="565.4" r="2.1"/><circle cx="330.6" cy="556.8" r="2.1"/><circle cx="326.6" cy="560.2" r="2.1"/><circle cx="329.3" cy="554.9" r="2.1"/><circle cx="328.6" cy="561.7" r="2.1"/><circle cx="341.0" cy="564.6" r="2.1"/><circle cx="337.9" cy="567.4" r="2.1"/><circle cx="351.7" cy="563.0" r="2.1"/><circle cx="326.4" cy="567.2" r="2.1"/><circle cx="340.0" cy="564.8" r="2.1"/><circle cx="350.2" cy="565.0" r="2.1"/><circle cx="337.2" cy="567.9" r="2.1"/><circle cx="327.1" cy="565.2" r="2.1"/><circle cx="335.4" cy="565.4" r="2.1"/><circle cx="345.7" cy="566.3" r="2.1"/><circle cx="333.4" cy="541.4" r="2.1"/><circle cx="325.1" cy="549.9" r="2.1"/><circle cx="326.0" cy="548.4" r="2.1"/><circle cx="352.8" cy="555.3" r="2.1"/><circle cx="328.2" cy="553.5" r="2.1"/><circle cx="325.6" cy="567.0" r="2.1"/><circle cx="322.3" cy="566.4" r="2.1"/><circle cx="349.7" cy="569.1" r="2.1"/><circle cx="335.6" cy="557.1" r="2.1"/><circle cx="346.2" cy="564.3" r="2.1"/><circle cx="337.3" cy="567.0" r="2.1"/><circle cx="347.9" cy="564.2" r="2.1"/><circle cx="320.9" cy="566.6" r="2.1"/><circle cx="349.3" cy="566.0" r="2.1"/><circle cx="341.0" cy="568.1" r="2.1"/><circle cx="329.5" cy="568.5" r="2.1"/><circle cx="324.1" cy="563.0" r="2.1"/><circle cx="339.7" cy="565.4" r="2.1"/><circle cx="345.2" cy="566.2" r="2.1"/><circle cx="329.8" cy="557.2" r="2.1"/><circle cx="340.0" cy="560.2" r="2.1"/><circle cx="339.1" cy="563.6" r="2.1"/><circle cx="343.1" cy="560.6" r="2.1"/><circle cx="341.7" cy="567.3" r="2.1"/><circle cx="335.7" cy="561.3" r="2.1"/><circle cx="330.9" cy="554.6" r="2.1"/><circle cx="340.2" cy="563.9" r="2.1"/><circle cx="342.3" cy="568.1" r="2.1"/><circle cx="338.0" cy="568.6" r="2.1"/><circle cx="343.2" cy="565.5" r="2.1"/><circle cx="348.0" cy="556.7" r="2.1"/><circle cx="337.0" cy="565.2" r="2.1"/><circle cx="348.5" cy="569.1" r="2.1"/><circle cx="329.7" cy="567.7" r="2.1"/><circle cx="328.3" cy="567.0" r="2.1"/><circle cx="330.1" cy="567.2" r="2.1"/><circle cx="332.4" cy="564.4" r="2.1"/><circle cx="350.9" cy="560.2" r="2.1"/><circle cx="332.9" cy="551.9" r="2.1"/><circle cx="344.2" cy="560.8" r="2.1"/><circle cx="327.0" cy="566.1" r="2.1"/><circle cx="341.9" cy="560.1" r="2.1"/><circle cx="342.3" cy="566.6" r="2.1"/><circle cx="346.1" cy="568.9" r="2.1"/><circle cx="342.1" cy="554.5" r="2.1"/><circle cx="325.3" cy="559.5" r="2.1"/><circle cx="326.9" cy="563.3" r="2.1"/></g>
<path d="M355.25,604 L355.25,572.4 L356.1,570.2 357.0,570.0 358.3,568.7 359.7,569.3 360.5,569.0 361.6,568.5 362.6,569.8 363.5,569.3 364.4,569.6 365.3,569.0 366.1,568.7 367.3,570.3 368.4,568.9 369.4,569.2 370.7,569.8 371.5,569.5 372.4,569.9 373.3,568.6 374.4,569.0 375.4,569.7 376.7,570.1 378.1,570.0 378.9,567.3 379.7,569.6 380.6,568.9 381.9,568.5 383.2,569.9 384.5,569.4 385.4,569.8 386.6,569.3 387.5,569.0 L389.45,572.4 L389.45,604 Z" fill="#85c7e8"/>
<g fill="#85c7e8"><circle cx="369.9" cy="565.3" r="2.1"/><circle cx="371.1" cy="564.1" r="2.1"/><circle cx="360.0" cy="560.8" r="2.1"/><circle cx="357.9" cy="568.1" r="2.1"/><circle cx="383.3" cy="565.9" r="2.1"/><circle cx="376.6" cy="563.4" r="2.1"/><circle cx="365.1" cy="551.5" r="2.1"/><circle cx="363.8" cy="564.4" r="2.1"/><circle cx="359.1" cy="563.5" r="2.1"/><circle cx="379.3" cy="566.2" r="2.1"/><circle cx="361.3" cy="567.5" r="2.1"/><circle cx="362.7" cy="560.4" r="2.1"/><circle cx="375.9" cy="554.3" r="2.1"/><circle cx="372.0" cy="564.4" r="2.1"/><circle cx="358.5" cy="567.5" r="2.1"/><circle cx="383.7" cy="549.4" r="2.1"/><circle cx="374.9" cy="564.4" r="2.1"/><circle cx="366.7" cy="553.0" r="2.1"/><circle cx="378.0" cy="562.4" r="2.1"/><circle cx="364.5" cy="567.7" r="2.1"/><circle cx="358.5" cy="564.8" r="2.1"/><circle cx="377.3" cy="558.7" r="2.1"/><circle cx="374.9" cy="568.3" r="2.1"/><circle cx="359.4" cy="563.5" r="2.1"/><circle cx="381.5" cy="565.7" r="2.1"/><circle cx="379.5" cy="565.4" r="2.1"/><circle cx="388.0" cy="567.7" r="2.1"/><circle cx="374.2" cy="562.2" r="2.1"/><circle cx="367.8" cy="569.3" r="2.1"/><circle cx="370.4" cy="569.4" r="2.1"/><circle cx="364.3" cy="568.1" r="2.1"/><circle cx="361.2" cy="567.0" r="2.1"/><circle cx="372.5" cy="567.2" r="2.1"/><circle cx="374.2" cy="568.5" r="2.1"/><circle cx="379.3" cy="550.0" r="2.1"/><circle cx="377.4" cy="568.6" r="2.1"/><circle cx="386.0" cy="567.6" r="2.1"/><circle cx="379.3" cy="564.9" r="2.1"/><circle cx="360.8" cy="559.6" r="2.1"/><circle cx="382.1" cy="568.7" r="2.1"/><circle cx="370.3" cy="558.3" r="2.1"/><circle cx="357.4" cy="569.2" r="2.1"/><circle cx="378.5" cy="558.9" r="2.1"/><circle cx="377.9" cy="566.3" r="2.1"/><circle cx="356.9" cy="558.6" r="2.1"/><circle cx="387.4" cy="560.5" r="2.1"/><circle cx="375.1" cy="556.1" r="2.1"/><circle cx="381.5" cy="568.6" r="2.1"/><circle cx="369.4" cy="562.4" r="2.1"/><circle cx="362.3" cy="569.1" r="2.1"/><circle cx="385.6" cy="566.0" r="2.1"/><circle cx="383.8" cy="565.2" r="2.1"/><circle cx="364.6" cy="568.0" r="2.1"/><circle cx="365.7" cy="567.6" r="2.1"/><circle cx="368.2" cy="559.1" r="2.1"/><circle cx="378.0" cy="566.9" r="2.1"/><circle cx="384.2" cy="565.5" r="2.1"/><circle cx="382.8" cy="561.6" r="2.1"/><circle cx="369.0" cy="565.8" r="2.1"/><circle cx="387.7" cy="565.5" r="2.1"/><circle cx="361.1" cy="550.6" r="2.1"/><circle cx="363.6" cy="556.7" r="2.1"/><circle cx="378.9" cy="565.2" r="2.1"/><circle cx="365.0" cy="567.4" r="2.1"/><circle cx="372.2" cy="564.7" r="2.1"/><circle cx="358.6" cy="569.4" r="2.1"/><circle cx="378.9" cy="566.3" r="2.1"/><circle cx="357.1" cy="566.3" r="2.1"/><circle cx="362.8" cy="567.6" r="2.1"/><circle cx="363.8" cy="560.0" r="2.1"/><circle cx="359.7" cy="543.6" r="2.1"/><circle cx="372.8" cy="565.0" r="2.1"/><circle cx="377.6" cy="559.5" r="2.1"/><circle cx="358.3" cy="564.3" r="2.1"/><circle cx="363.8" cy="552.3" r="2.1"/><circle cx="377.2" cy="563.6" r="2.1"/><circle cx="364.7" cy="566.9" r="2.1"/><circle cx="375.3" cy="569.3" r="2.1"/><circle cx="360.4" cy="561.3" r="2.1"/><circle cx="380.3" cy="567.6" r="2.1"/><circle cx="360.9" cy="561.3" r="2.1"/><circle cx="379.2" cy="540.6" r="2.1"/><circle cx="387.0" cy="566.9" r="2.1"/><circle cx="376.6" cy="565.6" r="2.1"/><circle cx="362.7" cy="543.0" r="2.1"/><circle cx="360.4" cy="567.9" r="2.1"/><circle cx="368.9" cy="555.3" r="2.1"/><circle cx="370.4" cy="564.9" r="2.1"/><circle cx="369.7" cy="561.0" r="2.1"/><circle cx="383.2" cy="556.2" r="2.1"/><circle cx="362.1" cy="560.4" r="2.1"/><circle cx="383.0" cy="565.8" r="2.1"/><circle cx="374.6" cy="566.5" r="2.1"/><circle cx="382.5" cy="567.8" r="2.1"/><circle cx="368.0" cy="566.7" r="2.1"/><circle cx="359.4" cy="558.3" r="2.1"/><circle cx="370.0" cy="569.4" r="2.1"/><circle cx="360.2" cy="565.6" r="2.1"/><circle cx="380.8" cy="566.1" r="2.1"/><circle cx="385.6" cy="555.4" r="2.1"/><circle cx="368.1" cy="568.9" r="2.1"/><circle cx="357.5" cy="565.5" r="2.1"/><circle cx="365.4" cy="559.5" r="2.1"/><circle cx="377.9" cy="559.5" r="2.1"/><circle cx="367.4" cy="567.4" r="2.1"/><circle cx="362.8" cy="565.5" r="2.1"/><circle cx="369.9" cy="569.3" r="2.1"/><circle cx="364.6" cy="567.7" r="2.1"/><circle cx="380.0" cy="559.3" r="2.1"/><circle cx="357.4" cy="565.9" r="2.1"/><circle cx="364.9" cy="560.0" r="2.1"/><circle cx="380.3" cy="568.7" r="2.1"/></g>
<path d="M390.35,604 L390.35,572.4 L391.2,569.8 392.5,570.2 393.9,569.0 394.9,569.9 395.6,569.8 397.0,570.0 398.1,569.7 398.9,570.3 400.1,569.3 401.2,569.1 402.4,569.6 403.1,569.5 404.3,570.1 405.7,568.3 406.9,569.6 407.8,568.4 408.8,569.6 409.9,570.2 410.9,569.7 412.0,568.8 412.8,569.6 413.9,569.8 415.1,570.2 416.5,569.3 417.5,569.9 418.5,569.7 419.8,569.7 420.8,569.9 421.5,568.8 422.4,568.5 423.4,569.6 424.1,570.1 425.1,570.3 426.1,569.3 L427.25,572.4 L427.25,604 Z" fill="#bdbdbd"/>
<g fill="#bdbdbd"><circle cx="404.5" cy="567.2" r="2.1"/><circle cx="422.4" cy="568.4" r="2.1"/><circle cx="416.8" cy="564.7" r="2.1"/><circle cx="414.5" cy="567.3" r="2.1"/><circle cx="399.6" cy="553.5" r="2.1"/><circle cx="416.2" cy="567.2" r="2.1"/><circle cx="407.6" cy="550.8" r="2.1"/><circle cx="406.7" cy="566.1" r="2.1"/><circle cx="398.7" cy="552.6" r="2.1"/><circle cx="403.3" cy="564.4" r="2.1"/><circle cx="419.5" cy="569.0" r="2.1"/><circle cx="422.6" cy="566.8" r="2.1"/><circle cx="398.0" cy="566.4" r="2.1"/><circle cx="419.9" cy="565.8" r="2.1"/><circle cx="409.6" cy="554.1" r="2.1"/><circle cx="404.1" cy="567.4" r="2.1"/><circle cx="392.4" cy="569.3" r="2.1"/><circle cx="412.1" cy="551.8" r="2.1"/><circle cx="420.0" cy="569.1" r="2.1"/><circle cx="416.3" cy="563.2" r="2.1"/><circle cx="406.6" cy="565.7" r="2.1"/><circle cx="402.6" cy="558.4" r="2.1"/><circle cx="395.7" cy="568.9" r="2.1"/><circle cx="410.7" cy="553.1" r="2.1"/><circle cx="406.3" cy="568.5" r="2.1"/><circle cx="399.7" cy="559.7" r="2.1"/><circle cx="423.5" cy="565.8" r="2.1"/><circle cx="422.5" cy="556.1" r="2.1"/><circle cx="396.9" cy="564.0" r="2.1"/><circle cx="395.9" cy="541.7" r="2.1"/><circle cx="394.4" cy="569.2" r="2.1"/><circle cx="412.5" cy="565.2" r="2.1"/><circle cx="419.6" cy="563.7" r="2.1"/><circle cx="416.5" cy="568.6" r="2.1"/><circle cx="424.3" cy="566.9" r="2.1"/><circle cx="415.3" cy="563.0" r="2.1"/><circle cx="422.9" cy="568.5" r="2.1"/><circle cx="398.9" cy="567.2" r="2.1"/><circle cx="418.4" cy="565.8" r="2.1"/><circle cx="407.8" cy="566.9" r="2.1"/><circle cx="400.2" cy="563.3" r="2.1"/><circle cx="405.6" cy="568.6" r="2.1"/><circle cx="414.9" cy="561.3" r="2.1"/><circle cx="414.2" cy="567.8" r="2.1"/><circle cx="415.7" cy="557.6" r="2.1"/><circle cx="393.2" cy="568.1" r="2.1"/><circle cx="415.8" cy="541.7" r="2.1"/><circle cx="413.2" cy="563.7" r="2.1"/><circle cx="414.5" cy="566.5" r="2.1"/><circle cx="404.9" cy="566.3" r="2.1"/><circle cx="416.9" cy="566.8" r="2.1"/><circle cx="401.6" cy="556.6" r="2.1"/><circle cx="403.9" cy="560.2" r="2.1"/><circle cx="420.5" cy="569.3" r="2.1"/><circle cx="394.1" cy="565.7" r="2.1"/><circle cx="409.1" cy="560.4" r="2.1"/><circle cx="420.2" cy="557.1" r="2.1"/><circle cx="404.8" cy="555.5" r="2.1"/><circle cx="414.0" cy="564.9" r="2.1"/><circle cx="413.1" cy="567.8" r="2.1"/><circle cx="421.1" cy="568.9" r="2.1"/><circle cx="411.2" cy="568.1" r="2.1"/><circle cx="420.0" cy="557.4" r="2.1"/><circle cx="394.1" cy="565.8" r="2.1"/><circle cx="402.2" cy="541.9" r="2.1"/><circle cx="406.8" cy="566.0" r="2.1"/><circle cx="410.3" cy="564.3" r="2.1"/><circle cx="411.8" cy="559.5" r="2.1"/><circle cx="409.9" cy="568.2" r="2.1"/><circle cx="420.9" cy="568.8" r="2.1"/><circle cx="404.2" cy="568.1" r="2.1"/><circle cx="403.4" cy="563.6" r="2.1"/><circle cx="406.7" cy="554.7" r="2.1"/><circle cx="409.2" cy="560.7" r="2.1"/><circle cx="403.2" cy="562.8" r="2.1"/><circle cx="411.9" cy="563.9" r="2.1"/><circle cx="403.7" cy="554.4" r="2.1"/><circle cx="401.7" cy="567.8" r="2.1"/><circle cx="423.4" cy="567.7" r="2.1"/><circle cx="401.6" cy="568.7" r="2.1"/><circle cx="416.0" cy="565.3" r="2.1"/><circle cx="395.9" cy="562.3" r="2.1"/><circle cx="416.3" cy="566.2" r="2.1"/><circle cx="395.9" cy="568.4" r="2.1"/><circle cx="391.8" cy="558.1" r="2.1"/><circle cx="398.1" cy="568.9" r="2.1"/><circle cx="403.6" cy="557.6" r="2.1"/><circle cx="410.2" cy="565.7" r="2.1"/><circle cx="406.0" cy="554.9" r="2.1"/><circle cx="396.3" cy="562.7" r="2.1"/><circle cx="411.1" cy="565.7" r="2.1"/><circle cx="403.1" cy="569.0" r="2.1"/><circle cx="422.8" cy="569.0" r="2.1"/><circle cx="397.2" cy="569.3" r="2.1"/><circle cx="399.6" cy="563.2" r="2.1"/><circle cx="403.4" cy="563.8" r="2.1"/><circle cx="399.6" cy="539.0" r="2.1"/><circle cx="418.1" cy="565.1" r="2.1"/><circle cx="415.8" cy="561.2" r="2.1"/><circle cx="423.6" cy="564.7" r="2.1"/><circle cx="410.4" cy="566.1" r="2.1"/><circle cx="417.3" cy="549.1" r="2.1"/><circle cx="401.8" cy="559.8" r="2.1"/><circle cx="417.6" cy="566.1" r="2.1"/><circle cx="403.7" cy="566.3" r="2.1"/><circle cx="394.3" cy="564.4" r="2.1"/><circle cx="425.4" cy="567.4" r="2.1"/><circle cx="419.3" cy="567.5" r="2.1"/><circle cx="402.2" cy="569.4" r="2.1"/><circle cx="402.4" cy="564.7" r="2.1"/><circle cx="398.3" cy="550.7" r="2.1"/><circle cx="418.9" cy="552.9" r="2.1"/><circle cx="392.1" cy="569.0" r="2.1"/><circle cx="415.1" cy="561.8" r="2.1"/><circle cx="403.1" cy="565.3" r="2.1"/><circle cx="404.4" cy="567.3" r="2.1"/><circle cx="412.6" cy="565.9" r="2.1"/><circle cx="403.3" cy="565.9" r="2.1"/><circle cx="414.3" cy="567.7" r="2.1"/><circle cx="398.0" cy="551.4" r="2.1"/><circle cx="399.7" cy="562.6" r="2.1"/></g>
<path d="M428.05,604 L428.05,572.4 L428.9,570.2 429.7,570.0 430.5,569.8 431.2,569.9 431.9,569.4 432.8,569.1 433.6,570.1 434.9,570.0 435.9,569.5 436.7,568.9 437.6,570.1 438.8,569.8 439.7,569.5 440.6,570.0 441.6,570.2 442.5,568.8 443.7,569.0 444.8,568.8 445.7,569.5 447.1,569.8 448.3,569.7 449.4,569.2 450.3,568.8 451.1,568.9 452.0,569.9 452.8,568.6 453.7,569.8 L454.65,572.4 L454.65,604 Z" fill="#85c7e8"/>
<g fill="#85c7e8"><circle cx="449.6" cy="554.8" r="2.1"/><circle cx="449.6" cy="563.0" r="2.1"/><circle cx="448.7" cy="553.8" r="2.1"/><circle cx="431.8" cy="567.2" r="2.1"/><circle cx="442.7" cy="569.1" r="2.1"/><circle cx="452.0" cy="567.0" r="2.1"/><circle cx="438.9" cy="569.3" r="2.1"/><circle cx="443.9" cy="561.3" r="2.1"/><circle cx="444.9" cy="557.7" r="2.1"/><circle cx="452.5" cy="556.0" r="2.1"/><circle cx="438.9" cy="563.4" r="2.1"/><circle cx="434.7" cy="564.5" r="2.1"/><circle cx="441.8" cy="567.5" r="2.1"/><circle cx="438.7" cy="565.6" r="2.1"/><circle cx="452.8" cy="568.8" r="2.1"/><circle cx="440.9" cy="566.8" r="2.1"/><circle cx="442.7" cy="566.6" r="2.1"/><circle cx="451.8" cy="559.5" r="2.1"/><circle cx="451.8" cy="563.4" r="2.1"/><circle cx="440.7" cy="566.4" r="2.1"/><circle cx="452.4" cy="566.7" r="2.1"/><circle cx="434.8" cy="568.5" r="2.1"/><circle cx="435.1" cy="559.9" r="2.1"/><circle cx="438.2" cy="569.0" r="2.1"/><circle cx="440.3" cy="565.3" r="2.1"/><circle cx="437.7" cy="567.7" r="2.1"/><circle cx="433.6" cy="567.2" r="2.1"/><circle cx="434.9" cy="564.8" r="2.1"/><circle cx="451.6" cy="568.0" r="2.1"/><circle cx="438.5" cy="555.2" r="2.1"/><circle cx="429.9" cy="568.7" r="2.1"/><circle cx="451.9" cy="564.7" r="2.1"/><circle cx="440.3" cy="568.9" r="2.1"/><circle cx="429.7" cy="559.1" r="2.1"/><circle cx="435.7" cy="563.6" r="2.1"/><circle cx="449.0" cy="560.2" r="2.1"/><circle cx="444.3" cy="555.4" r="2.1"/><circle cx="436.6" cy="564.0" r="2.1"/><circle cx="440.7" cy="567.9" r="2.1"/><circle cx="439.1" cy="565.8" r="2.1"/><circle cx="434.9" cy="549.4" r="2.1"/><circle cx="445.9" cy="568.4" r="2.1"/><circle cx="438.8" cy="565.6" r="2.1"/><circle cx="432.6" cy="565.2" r="2.1"/><circle cx="439.3" cy="567.8" r="2.1"/><circle cx="449.6" cy="568.0" r="2.1"/><circle cx="444.4" cy="561.7" r="2.1"/><circle cx="433.3" cy="561.7" r="2.1"/><circle cx="431.3" cy="569.3" r="2.1"/><circle cx="441.1" cy="555.4" r="2.1"/><circle cx="438.6" cy="566.8" r="2.1"/><circle cx="449.6" cy="562.6" r="2.1"/><circle cx="441.0" cy="565.8" r="2.1"/><circle cx="435.1" cy="566.5" r="2.1"/><circle cx="434.6" cy="554.0" r="2.1"/><circle cx="440.5" cy="556.1" r="2.1"/><circle cx="431.4" cy="565.9" r="2.1"/><circle cx="432.0" cy="560.5" r="2.1"/><circle cx="432.1" cy="551.3" r="2.1"/><circle cx="444.9" cy="567.8" r="2.1"/><circle cx="432.2" cy="568.8" r="2.1"/><circle cx="429.8" cy="569.0" r="2.1"/><circle cx="434.8" cy="564.7" r="2.1"/><circle cx="445.6" cy="560.3" r="2.1"/><circle cx="451.5" cy="564.8" r="2.1"/><circle cx="436.8" cy="546.5" r="2.1"/><circle cx="433.9" cy="561.7" r="2.1"/><circle cx="430.3" cy="559.4" r="2.1"/><circle cx="451.0" cy="562.1" r="2.1"/><circle cx="446.0" cy="562.5" r="2.1"/><circle cx="439.2" cy="562.4" r="2.1"/><circle cx="438.4" cy="568.6" r="2.1"/><circle cx="448.8" cy="567.0" r="2.1"/><circle cx="448.7" cy="555.6" r="2.1"/><circle cx="429.9" cy="554.2" r="2.1"/><circle cx="431.3" cy="568.7" r="2.1"/><circle cx="446.2" cy="565.6" r="2.1"/><circle cx="437.1" cy="568.1" r="2.1"/><circle cx="442.4" cy="565.1" r="2.1"/><circle cx="433.6" cy="568.5" r="2.1"/><circle cx="437.1" cy="569.3" r="2.1"/><circle cx="433.9" cy="540.6" r="2.1"/><circle cx="449.9" cy="562.6" r="2.1"/><circle cx="430.9" cy="558.8" r="2.1"/><circle cx="449.3" cy="566.8" r="2.1"/><circle cx="449.8" cy="562.6" r="2.1"/><circle cx="449.4" cy="569.2" r="2.1"/></g>
<path d="M455.45,604 L455.45,572.4 L456.3,568.8 457.4,569.2 458.4,570.1 459.7,570.2 461.0,569.4 462.2,569.1 463.2,570.2 464.6,568.8 465.9,570.1 466.9,569.7 467.8,568.2 468.9,569.4 470.0,569.7 470.9,570.0 472.3,569.0 473.5,569.5 474.3,570.1 475.0,570.3 475.9,568.9 476.7,570.1 477.5,570.1 478.3,570.3 479.2,569.9 480.4,569.7 481.1,569.1 482.0,568.9 483.2,569.9 483.9,568.7 L484.75,572.4 L484.75,604 Z" fill="#bdbdbd"/>
<g fill="#bdbdbd"><circle cx="464.6" cy="556.4" r="2.1"/><circle cx="459.7" cy="567.8" r="2.1"/><circle cx="469.0" cy="565.8" r="2.1"/><circle cx="470.8" cy="569.2" r="2.1"/><circle cx="466.4" cy="565.8" r="2.1"/><circle cx="480.4" cy="560.1" r="2.1"/><circle cx="464.9" cy="566.0" r="2.1"/><circle cx="477.0" cy="559.8" r="2.1"/><circle cx="473.1" cy="564.7" r="2.1"/><circle cx="476.1" cy="566.7" r="2.1"/><circle cx="479.6" cy="563.8" r="2.1"/><circle cx="458.6" cy="567.1" r="2.1"/><circle cx="472.4" cy="556.3" r="2.1"/><circle cx="477.3" cy="560.4" r="2.1"/><circle cx="479.8" cy="566.5" r="2.1"/><circle cx="467.6" cy="563.1" r="2.1"/><circle cx="459.4" cy="568.2" r="2.1"/><circle cx="465.3" cy="567.7" r="2.1"/><circle cx="473.3" cy="566.8" r="2.1"/><circle cx="471.8" cy="548.4" r="2.1"/><circle cx="475.3" cy="569.3" r="2.1"/><circle cx="477.5" cy="564.4" r="2.1"/><circle cx="473.9" cy="566.6" r="2.1"/><circle cx="477.6" cy="564.7" r="2.1"/><circle cx="478.7" cy="565.7" r="2.1"/><circle cx="470.9" cy="556.1" r="2.1"/><circle cx="470.6" cy="561.4" r="2.1"/><circle cx="474.1" cy="546.5" r="2.1"/><circle cx="480.8" cy="568.7" r="2.1"/><circle cx="457.5" cy="563.1" r="2.1"/><circle cx="479.3" cy="569.3" r="2.1"/><circle cx="473.2" cy="559.5" r="2.1"/><circle cx="463.3" cy="566.0" r="2.1"/><circle cx="480.9" cy="565.1" r="2.1"/><circle cx="458.0" cy="562.9" r="2.1"/><circle cx="459.1" cy="567.9" r="2.1"/><circle cx="479.3" cy="556.3" r="2.1"/><circle cx="465.2" cy="565.7" r="2.1"/><circle cx="463.6" cy="569.0" r="2.1"/><circle cx="467.2" cy="566.6" r="2.1"/><circle cx="476.1" cy="566.7" r="2.1"/><circle cx="466.9" cy="556.6" r="2.1"/><circle cx="463.9" cy="567.1" r="2.1"/><circle cx="459.2" cy="559.0" r="2.1"/><circle cx="483.2" cy="568.9" r="2.1"/><circle cx="467.7" cy="565.2" r="2.1"/><circle cx="480.5" cy="559.8" r="2.1"/><circle cx="478.2" cy="566.4" r="2.1"/><circle cx="480.4" cy="568.5" r="2.1"/><circle cx="467.1" cy="565.9" r="2.1"/><circle cx="458.7" cy="569.3" r="2.1"/><circle cx="459.9" cy="566.2" r="2.1"/><circle cx="483.3" cy="562.3" r="2.1"/><circle cx="476.8" cy="567.2" r="2.1"/><circle cx="473.2" cy="563.7" r="2.1"/><circle cx="469.7" cy="559.6" r="2.1"/><circle cx="461.1" cy="557.9" r="2.1"/><circle cx="470.9" cy="561.9" r="2.1"/><circle cx="462.9" cy="568.0" r="2.1"/><circle cx="470.1" cy="550.1" r="2.1"/><circle cx="479.4" cy="557.1" r="2.1"/><circle cx="477.5" cy="557.1" r="2.1"/><circle cx="465.4" cy="562.1" r="2.1"/><circle cx="476.7" cy="544.7" r="2.1"/><circle cx="458.5" cy="565.8" r="2.1"/><circle cx="461.5" cy="555.4" r="2.1"/><circle cx="471.1" cy="564.6" r="2.1"/><circle cx="482.1" cy="558.1" r="2.1"/><circle cx="479.4" cy="555.3" r="2.1"/><circle cx="465.2" cy="567.7" r="2.1"/><circle cx="466.6" cy="564.0" r="2.1"/><circle cx="459.9" cy="563.9" r="2.1"/><circle cx="457.4" cy="567.6" r="2.1"/><circle cx="463.2" cy="565.7" r="2.1"/><circle cx="463.6" cy="558.4" r="2.1"/><circle cx="475.8" cy="568.0" r="2.1"/><circle cx="479.1" cy="568.0" r="2.1"/><circle cx="460.7" cy="564.5" r="2.1"/><circle cx="483.3" cy="561.5" r="2.1"/><circle cx="471.6" cy="567.0" r="2.1"/><circle cx="482.0" cy="564.2" r="2.1"/><circle cx="476.6" cy="540.8" r="2.1"/><circle cx="470.4" cy="565.9" r="2.1"/><circle cx="457.2" cy="563.9" r="2.1"/><circle cx="480.6" cy="569.1" r="2.1"/><circle cx="468.6" cy="566.1" r="2.1"/><circle cx="476.8" cy="564.1" r="2.1"/><circle cx="459.1" cy="554.9" r="2.1"/><circle cx="471.3" cy="569.4" r="2.1"/><circle cx="469.5" cy="558.4" r="2.1"/><circle cx="479.5" cy="566.4" r="2.1"/><circle cx="481.1" cy="561.7" r="2.1"/><circle cx="465.0" cy="564.3" r="2.1"/><circle cx="469.8" cy="561.7" r="2.1"/><circle cx="460.3" cy="569.4" r="2.1"/><circle cx="475.5" cy="548.6" r="2.1"/></g>
<path d="M485.55,604 L485.55,572.4 L486.4,570.3 487.8,570.0 488.6,568.7 489.7,570.2 490.6,568.8 492.0,570.1 493.3,568.4 494.3,570.2 495.3,568.3 496.2,569.0 497.4,570.1 498.5,570.0 499.8,568.4 501.1,569.9 502.3,569.6 503.1,568.1 504.1,569.4 505.5,569.8 506.7,569.0 507.8,570.2 508.6,568.0 509.6,570.1 510.9,569.7 L511.75,572.4 L511.75,604 Z" fill="#85c7e8"/>
<g fill="#85c7e8"><circle cx="500.0" cy="547.8" r="2.1"/><circle cx="503.6" cy="559.6" r="2.1"/><circle cx="503.7" cy="566.0" r="2.1"/><circle cx="494.6" cy="567.9" r="2.1"/><circle cx="492.2" cy="567.2" r="2.1"/><circle cx="491.9" cy="569.1" r="2.1"/><circle cx="501.2" cy="564.3" r="2.1"/><circle cx="501.2" cy="566.7" r="2.1"/><circle cx="505.9" cy="566.8" r="2.1"/><circle cx="505.0" cy="569.3" r="2.1"/><circle cx="500.5" cy="554.4" r="2.1"/><circle cx="498.8" cy="543.2" r="2.1"/><circle cx="499.5" cy="561.0" r="2.1"/><circle cx="497.1" cy="565.1" r="2.1"/><circle cx="507.5" cy="565.4" r="2.1"/><circle cx="502.3" cy="568.9" r="2.1"/><circle cx="506.7" cy="568.8" r="2.1"/><circle cx="505.6" cy="567.4" r="2.1"/><circle cx="501.8" cy="566.9" r="2.1"/><circle cx="509.3" cy="564.8" r="2.1"/><circle cx="498.9" cy="565.2" r="2.1"/><circle cx="492.8" cy="564.9" r="2.1"/><circle cx="493.3" cy="550.9" r="2.1"/><circle cx="508.1" cy="561.1" r="2.1"/><circle cx="509.3" cy="563.5" r="2.1"/><circle cx="507.7" cy="567.7" r="2.1"/><circle cx="492.0" cy="559.9" r="2.1"/><circle cx="496.9" cy="568.8" r="2.1"/><circle cx="498.4" cy="565.9" r="2.1"/><circle cx="492.3" cy="561.1" r="2.1"/><circle cx="494.7" cy="567.5" r="2.1"/><circle cx="497.3" cy="568.2" r="2.1"/><circle cx="493.3" cy="563.4" r="2.1"/><circle cx="504.0" cy="568.4" r="2.1"/><circle cx="507.0" cy="568.8" r="2.1"/><circle cx="492.3" cy="563.2" r="2.1"/><circle cx="506.7" cy="569.3" r="2.1"/><circle cx="504.6" cy="569.2" r="2.1"/><circle cx="503.1" cy="564.4" r="2.1"/><circle cx="504.0" cy="567.9" r="2.1"/><circle cx="500.8" cy="567.5" r="2.1"/><circle cx="494.0" cy="547.6" r="2.1"/><circle cx="506.4" cy="566.0" r="2.1"/><circle cx="496.1" cy="559.0" r="2.1"/><circle cx="495.2" cy="563.6" r="2.1"/><circle cx="494.4" cy="565.0" r="2.1"/><circle cx="500.9" cy="550.5" r="2.1"/><circle cx="489.6" cy="567.8" r="2.1"/><circle cx="506.3" cy="565.6" r="2.1"/><circle cx="493.6" cy="566.4" r="2.1"/><circle cx="501.1" cy="567.2" r="2.1"/><circle cx="499.4" cy="567.3" r="2.1"/><circle cx="487.9" cy="564.7" r="2.1"/><circle cx="506.2" cy="566.9" r="2.1"/><circle cx="504.5" cy="567.9" r="2.1"/><circle cx="498.4" cy="568.9" r="2.1"/><circle cx="502.2" cy="565.8" r="2.1"/><circle cx="489.8" cy="569.4" r="2.1"/><circle cx="508.4" cy="566.0" r="2.1"/><circle cx="507.1" cy="564.9" r="2.1"/><circle cx="510.0" cy="564.4" r="2.1"/><circle cx="507.3" cy="568.9" r="2.1"/><circle cx="492.1" cy="567.5" r="2.1"/><circle cx="496.7" cy="564.5" r="2.1"/><circle cx="493.8" cy="536.7" r="2.1"/><circle cx="494.5" cy="565.6" r="2.1"/><circle cx="491.8" cy="567.8" r="2.1"/><circle cx="493.9" cy="567.4" r="2.1"/><circle cx="494.2" cy="568.6" r="2.1"/><circle cx="506.5" cy="549.6" r="2.1"/><circle cx="490.4" cy="548.9" r="2.1"/><circle cx="499.4" cy="566.8" r="2.1"/><circle cx="503.3" cy="556.9" r="2.1"/><circle cx="504.9" cy="567.4" r="2.1"/><circle cx="489.1" cy="556.2" r="2.1"/><circle cx="505.0" cy="565.2" r="2.1"/><circle cx="502.5" cy="568.3" r="2.1"/><circle cx="487.7" cy="569.3" r="2.1"/><circle cx="495.1" cy="565.7" r="2.1"/><circle cx="491.9" cy="565.7" r="2.1"/><circle cx="505.6" cy="548.3" r="2.1"/><circle cx="508.7" cy="568.2" r="2.1"/><circle cx="507.4" cy="568.0" r="2.1"/><circle cx="501.0" cy="565.8" r="2.1"/><circle cx="506.1" cy="567.6" r="2.1"/><circle cx="505.3" cy="567.8" r="2.1"/></g>
<path d="M512.55,604 L512.55,572.4 L513.4,568.5 514.6,567.8 515.8,568.4 516.6,570.1 517.9,569.8 519.3,570.1 520.5,570.1 521.5,569.5 522.8,568.6 523.9,569.0 525.1,568.4 526.1,569.3 527.4,569.7 528.4,570.0 529.2,570.3 530.5,568.7 531.5,569.8 532.8,569.7 533.7,570.2 534.8,568.9 535.6,568.2 536.7,569.1 537.5,569.1 538.2,570.0 539.0,569.3 539.8,570.2 540.7,570.1 542.0,570.3 542.8,568.3 543.6,568.7 544.7,569.8 545.9,569.6 546.7,568.8 L548.55,572.4 L548.55,604 Z" fill="#bdbdbd"/>
<g fill="#bdbdbd"><circle cx="540.4" cy="569.2" r="2.1"/><circle cx="529.3" cy="566.3" r="2.1"/><circle cx="546.9" cy="554.9" r="2.1"/><circle cx="542.9" cy="566.2" r="2.1"/><circle cx="543.1" cy="557.3" r="2.1"/><circle cx="521.1" cy="542.3" r="2.1"/><circle cx="520.8" cy="554.9" r="2.1"/><circle cx="542.1" cy="566.2" r="2.1"/><circle cx="526.5" cy="566.4" r="2.1"/><circle cx="538.1" cy="557.1" r="2.1"/><circle cx="518.3" cy="568.6" r="2.1"/><circle cx="530.5" cy="562.0" r="2.1"/><circle cx="529.9" cy="554.8" r="2.1"/><circle cx="540.5" cy="567.5" r="2.1"/><circle cx="542.6" cy="558.6" r="2.1"/><circle cx="532.7" cy="568.6" r="2.1"/><circle cx="546.4" cy="568.0" r="2.1"/><circle cx="535.6" cy="568.3" r="2.1"/><circle cx="520.6" cy="561.2" r="2.1"/><circle cx="518.0" cy="563.7" r="2.1"/><circle cx="523.4" cy="569.0" r="2.1"/><circle cx="528.6" cy="568.9" r="2.1"/><circle cx="544.7" cy="562.0" r="2.1"/><circle cx="529.8" cy="567.4" r="2.1"/><circle cx="524.4" cy="561.8" r="2.1"/><circle cx="526.2" cy="567.0" r="2.1"/><circle cx="526.0" cy="557.7" r="2.1"/><circle cx="518.8" cy="559.9" r="2.1"/><circle cx="523.6" cy="567.0" r="2.1"/><circle cx="519.2" cy="567.7" r="2.1"/><circle cx="541.0" cy="566.1" r="2.1"/><circle cx="546.9" cy="562.4" r="2.1"/><circle cx="524.1" cy="566.9" r="2.1"/><circle cx="530.3" cy="567.6" r="2.1"/><circle cx="540.6" cy="568.5" r="2.1"/><circle cx="515.3" cy="565.8" r="2.1"/><circle cx="528.2" cy="564.8" r="2.1"/><circle cx="524.0" cy="568.0" r="2.1"/><circle cx="547.1" cy="562.2" r="2.1"/><circle cx="522.5" cy="563.4" r="2.1"/><circle cx="524.7" cy="569.2" r="2.1"/><circle cx="528.0" cy="567.6" r="2.1"/><circle cx="523.2" cy="565.5" r="2.1"/><circle cx="544.8" cy="568.2" r="2.1"/><circle cx="538.0" cy="550.1" r="2.1"/><circle cx="538.6" cy="563.9" r="2.1"/><circle cx="535.9" cy="565.6" r="2.1"/><circle cx="537.4" cy="557.1" r="2.1"/><circle cx="525.4" cy="563.2" r="2.1"/><circle cx="543.7" cy="558.8" r="2.1"/><circle cx="519.5" cy="567.7" r="2.1"/><circle cx="522.1" cy="569.3" r="2.1"/><circle cx="520.6" cy="568.1" r="2.1"/><circle cx="524.5" cy="568.2" r="2.1"/><circle cx="545.8" cy="568.2" r="2.1"/><circle cx="514.4" cy="568.9" r="2.1"/><circle cx="526.6" cy="552.8" r="2.1"/><circle cx="514.4" cy="566.9" r="2.1"/><circle cx="544.6" cy="569.1" r="2.1"/><circle cx="528.7" cy="569.1" r="2.1"/><circle cx="535.3" cy="567.4" r="2.1"/><circle cx="540.8" cy="566.3" r="2.1"/><circle cx="531.8" cy="567.8" r="2.1"/><circle cx="531.6" cy="543.9" r="2.1"/><circle cx="543.2" cy="569.1" r="2.1"/><circle cx="547.0" cy="566.2" r="2.1"/><circle cx="522.4" cy="561.5" r="2.1"/><circle cx="519.5" cy="559.8" r="2.1"/><circle cx="538.5" cy="564.5" r="2.1"/><circle cx="515.9" cy="568.2" r="2.1"/><circle cx="520.2" cy="557.4" r="2.1"/><circle cx="520.4" cy="565.2" r="2.1"/><circle cx="541.7" cy="556.6" r="2.1"/><circle cx="524.9" cy="540.1" r="2.1"/><circle cx="540.3" cy="568.6" r="2.1"/><circle cx="522.1" cy="563.7" r="2.1"/><circle cx="524.6" cy="566.1" r="2.1"/><circle cx="528.0" cy="562.1" r="2.1"/><circle cx="536.1" cy="565.8" r="2.1"/><circle cx="516.7" cy="566.6" r="2.1"/><circle cx="542.7" cy="565.0" r="2.1"/><circle cx="522.9" cy="567.6" r="2.1"/><circle cx="519.3" cy="553.4" r="2.1"/><circle cx="520.9" cy="567.0" r="2.1"/><circle cx="543.5" cy="561.0" r="2.1"/><circle cx="522.9" cy="565.3" r="2.1"/><circle cx="514.2" cy="568.5" r="2.1"/><circle cx="538.5" cy="561.4" r="2.1"/><circle cx="529.7" cy="566.9" r="2.1"/><circle cx="537.1" cy="560.0" r="2.1"/><circle cx="544.4" cy="561.9" r="2.1"/><circle cx="546.3" cy="567.6" r="2.1"/><circle cx="524.5" cy="563.0" r="2.1"/><circle cx="524.1" cy="561.9" r="2.1"/><circle cx="541.3" cy="565.9" r="2.1"/><circle cx="533.8" cy="558.7" r="2.1"/><circle cx="542.7" cy="558.7" r="2.1"/><circle cx="516.5" cy="566.2" r="2.1"/><circle cx="519.4" cy="551.0" r="2.1"/><circle cx="539.9" cy="564.4" r="2.1"/><circle cx="530.4" cy="569.2" r="2.1"/><circle cx="536.2" cy="566.0" r="2.1"/><circle cx="526.4" cy="554.5" r="2.1"/><circle cx="519.3" cy="565.3" r="2.1"/><circle cx="522.5" cy="556.6" r="2.1"/><circle cx="540.7" cy="564.4" r="2.1"/><circle cx="530.5" cy="568.6" r="2.1"/><circle cx="516.0" cy="567.1" r="2.1"/><circle cx="535.1" cy="566.1" r="2.1"/><circle cx="547.0" cy="563.2" r="2.1"/><circle cx="544.8" cy="561.5" r="2.1"/><circle cx="536.7" cy="560.9" r="2.1"/><circle cx="542.7" cy="554.5" r="2.1"/><circle cx="523.3" cy="566.8" r="2.1"/><circle cx="540.0" cy="556.3" r="2.1"/><circle cx="530.5" cy="567.1" r="2.1"/><circle cx="535.2" cy="566.6" r="2.1"/><circle cx="515.9" cy="557.9" r="2.1"/></g>
<path d="M549.35,604 L549.35,572.4 L550.2,568.6 551.2,569.2 552.6,570.1 553.4,569.1 554.7,568.4 555.9,570.0 556.8,570.1 558.1,570.0 559.4,570.2 560.3,568.9 561.3,569.2 562.4,569.9 563.2,569.2 564.2,569.9 565.5,568.3 566.6,569.4 568.0,570.2 569.2,570.1 L570.15,572.4 L570.15,604 Z" fill="#85c7e8"/>
<g fill="#85c7e8"><circle cx="554.6" cy="568.0" r="2.1"/><circle cx="566.9" cy="565.2" r="2.1"/><circle cx="558.5" cy="562.2" r="2.1"/><circle cx="557.0" cy="563.9" r="2.1"/><circle cx="554.0" cy="566.1" r="2.1"/><circle cx="551.2" cy="561.6" r="2.1"/><circle cx="552.3" cy="564.5" r="2.1"/><circle cx="564.4" cy="568.4" r="2.1"/><circle cx="559.9" cy="556.4" r="2.1"/><circle cx="560.5" cy="561.3" r="2.1"/><circle cx="550.9" cy="563.3" r="2.1"/><circle cx="564.2" cy="568.7" r="2.1"/><circle cx="568.1" cy="566.3" r="2.1"/><circle cx="555.8" cy="567.5" r="2.1"/><circle cx="567.5" cy="567.8" r="2.1"/><circle cx="555.4" cy="564.2" r="2.1"/><circle cx="561.2" cy="569.0" r="2.1"/><circle cx="566.3" cy="569.3" r="2.1"/><circle cx="564.5" cy="568.3" r="2.1"/><circle cx="556.0" cy="556.4" r="2.1"/><circle cx="559.0" cy="561.8" r="2.1"/><circle cx="566.7" cy="565.9" r="2.1"/><circle cx="560.9" cy="567.5" r="2.1"/><circle cx="561.0" cy="569.3" r="2.1"/><circle cx="557.9" cy="546.4" r="2.1"/><circle cx="557.5" cy="566.8" r="2.1"/><circle cx="566.6" cy="566.1" r="2.1"/><circle cx="551.6" cy="566.8" r="2.1"/><circle cx="561.2" cy="564.2" r="2.1"/><circle cx="559.2" cy="563.3" r="2.1"/><circle cx="563.6" cy="567.1" r="2.1"/><circle cx="555.5" cy="567.5" r="2.1"/><circle cx="551.8" cy="568.1" r="2.1"/><circle cx="562.9" cy="567.9" r="2.1"/><circle cx="559.0" cy="566.1" r="2.1"/><circle cx="555.4" cy="567.7" r="2.1"/><circle cx="567.6" cy="561.8" r="2.1"/><circle cx="563.2" cy="568.4" r="2.1"/><circle cx="560.6" cy="548.4" r="2.1"/><circle cx="564.9" cy="568.1" r="2.1"/><circle cx="554.6" cy="568.6" r="2.1"/><circle cx="550.8" cy="568.7" r="2.1"/><circle cx="557.0" cy="560.1" r="2.1"/><circle cx="563.9" cy="566.5" r="2.1"/><circle cx="566.2" cy="567.5" r="2.1"/><circle cx="568.3" cy="568.1" r="2.1"/><circle cx="559.8" cy="556.0" r="2.1"/><circle cx="558.7" cy="557.2" r="2.1"/><circle cx="558.8" cy="567.0" r="2.1"/><circle cx="566.2" cy="564.1" r="2.1"/><circle cx="560.8" cy="566.8" r="2.1"/><circle cx="558.8" cy="567.3" r="2.1"/><circle cx="560.5" cy="569.1" r="2.1"/><circle cx="561.4" cy="563.2" r="2.1"/><circle cx="565.5" cy="556.2" r="2.1"/><circle cx="554.2" cy="566.0" r="2.1"/><circle cx="563.4" cy="564.8" r="2.1"/><circle cx="554.9" cy="567.4" r="2.1"/><circle cx="560.8" cy="568.8" r="2.1"/><circle cx="565.1" cy="566.3" r="2.1"/><circle cx="561.8" cy="568.3" r="2.1"/><circle cx="554.3" cy="568.3" r="2.1"/><circle cx="562.4" cy="568.6" r="2.1"/><circle cx="558.6" cy="560.8" r="2.1"/><circle cx="565.2" cy="558.0" r="2.1"/><circle cx="558.7" cy="556.3" r="2.1"/><circle cx="556.1" cy="559.0" r="2.1"/><circle cx="568.7" cy="567.6" r="2.1"/></g>
<circle cx="534.1" cy="589.0" r="0.5" fill="#fff"/>
<circle cx="480.5" cy="573.4" r="0.5" fill="#fff"/>
<circle cx="449.6" cy="587.4" r="0.5" fill="#fff"/>
<circle cx="200.2" cy="579.2" r="0.5" fill="#fff"/>
<circle cx="399.6" cy="595.7" r="0.5" fill="#fff"/>
<circle cx="435.4" cy="573.1" r="0.5" fill="#fff"/>
<circle cx="351.2" cy="580.7" r="0.5" fill="#fff"/>
<circle cx="164.4" cy="573.4" r="0.5" fill="#fff"/>
<circle cx="348.2" cy="579.0" r="0.5" fill="#fff"/>
<circle cx="221.3" cy="585.0" r="0.5" fill="#fff"/>
<circle cx="514.3" cy="579.2" r="0.5" fill="#fff"/>
<circle cx="346.4" cy="588.8" r="0.5" fill="#fff"/>
<circle cx="439.3" cy="594.0" r="0.5" fill="#fff"/>
<circle cx="164.5" cy="594.5" r="0.5" fill="#fff"/>
<circle cx="85.2" cy="583.9" r="0.5" fill="#fff"/>
<circle cx="429.9" cy="595.4" r="0.5" fill="#fff"/>
<circle cx="227.3" cy="589.6" r="0.5" fill="#fff"/>
<circle cx="410.9" cy="573.2" r="0.5" fill="#fff"/>
<circle cx="437.7" cy="593.8" r="0.5" fill="#fff"/>
<circle cx="118.9" cy="580.3" r="0.5" fill="#fff"/>
<circle cx="272.2" cy="596.4" r="0.5" fill="#fff"/>
<circle cx="545.7" cy="576.8" r="0.5" fill="#fff"/>
<circle cx="252.4" cy="575.2" r="0.5" fill="#fff"/>
<circle cx="73.7" cy="577.6" r="0.5" fill="#fff"/>
<circle cx="534.4" cy="595.5" r="0.5" fill="#fff"/>
<circle cx="150.3" cy="588.2" r="0.5" fill="#fff"/>
<circle cx="378.7" cy="583.6" r="0.5" fill="#fff"/>
<circle cx="488.0" cy="574.3" r="0.5" fill="#fff"/>
<circle cx="188.3" cy="575.0" r="0.5" fill="#fff"/>
<circle cx="521.1" cy="592.8" r="0.5" fill="#fff"/>
<circle cx="281.3" cy="574.3" r="0.5" fill="#fff"/>
<circle cx="491.3" cy="592.3" r="0.5" fill="#fff"/>
<circle cx="499.6" cy="596.5" r="0.5" fill="#fff"/>
<circle cx="392.8" cy="584.8" r="0.5" fill="#fff"/>
<circle cx="464.5" cy="575.6" r="0.5" fill="#fff"/>
<circle cx="483.6" cy="580.0" r="0.5" fill="#fff"/>
<circle cx="275.3" cy="594.7" r="0.5" fill="#fff"/>
<circle cx="49.4" cy="580.8" r="0.5" fill="#fff"/>
<circle cx="470.8" cy="582.5" r="0.5" fill="#fff"/>
<circle cx="517.6" cy="590.6" r="0.5" fill="#fff"/>
<line x1="43" x2="570" y1="568.2" y2="568.2" stroke="#dcae92" stroke-width="1.1" stroke-dasharray="4 0.8"/>
<line x1="43.2" x2="43.2" y1="527.6" y2="602.3" stroke="#333" stroke-width="0.8"/>
<line x1="39.3" x2="43.2" y1="602.0" y2="602.0" stroke="#333" stroke-width="0.8"/>
<text x="37.7" y="605.2" font-size="9" text-anchor="end" fill="#222"  >0</text>
<line x1="39.3" x2="43.2" y1="587.2" y2="587.2" stroke="#333" stroke-width="0.8"/>
<text x="37.7" y="590.4" font-size="9" text-anchor="end" fill="#222"  >200</text>
<line x1="39.3" x2="43.2" y1="572.4" y2="572.4" stroke="#333" stroke-width="0.8"/>
<text x="37.7" y="575.6" font-size="9" text-anchor="end" fill="#222"  >400</text>
<line x1="39.3" x2="43.2" y1="557.5" y2="557.5" stroke="#333" stroke-width="0.8"/>
<text x="37.7" y="560.7" font-size="9" text-anchor="end" fill="#222"  >600</text>
<line x1="39.3" x2="43.2" y1="542.7" y2="542.7" stroke="#333" stroke-width="0.8"/>
<text x="37.7" y="545.9" font-size="9" text-anchor="end" fill="#222"  >800</text>
<line x1="39.3" x2="43.2" y1="527.9" y2="527.9" stroke="#333" stroke-width="0.8"/>
<text x="37.7" y="531.1" font-size="9" text-anchor="end" fill="#222"  >1000</text>
<line x1="43.2" x2="560" y1="605.7" y2="605.7" stroke="#333" stroke-width="0.8"/>
<line x1="43.5" x2="43.5" y1="605.7" y2="609.2" stroke="#333" stroke-width="0.8"/>
<line x1="64" x2="64" y1="605.7" y2="609.2" stroke="#333" stroke-width="0.8"/>
<text x="64.0" y="621.0" font-size="8.8" text-anchor="middle" fill="#222"  >1A</text>
<line x1="99" x2="99" y1="605.7" y2="609.2" stroke="#333" stroke-width="0.8"/>
<text x="99.0" y="621.0" font-size="8.8" text-anchor="middle" fill="#222"  >1B</text>
<line x1="134" x2="134" y1="605.7" y2="609.2" stroke="#333" stroke-width="0.8"/>
<text x="134.0" y="621.0" font-size="8.8" text-anchor="middle" fill="#222"  >2A</text>
<line x1="168.6" x2="168.6" y1="605.7" y2="609.2" stroke="#333" stroke-width="0.8"/>
<text x="168.6" y="621.0" font-size="8.8" text-anchor="middle" fill="#222"  >2B</text>
<line x1="203.1" x2="203.1" y1="605.7" y2="609.2" stroke="#333" stroke-width="0.8"/>
<text x="203.1" y="621.0" font-size="8.8" text-anchor="middle" fill="#222"  >3A</text>
<line x1="236.8" x2="236.8" y1="605.7" y2="609.2" stroke="#333" stroke-width="0.8"/>
<text x="236.8" y="621.0" font-size="8.8" text-anchor="middle" fill="#222"  >3B</text>
<line x1="270.1" x2="270.1" y1="605.7" y2="609.2" stroke="#333" stroke-width="0.8"/>
<text x="270.1" y="621.0" font-size="8.8" text-anchor="middle" fill="#222"  >4A</text>
<line x1="303.8" x2="303.8" y1="605.7" y2="609.2" stroke="#333" stroke-width="0.8"/>
<text x="303.8" y="621.0" font-size="8.8" text-anchor="middle" fill="#222"  >4B</text>
<line x1="337.5" x2="337.5" y1="605.7" y2="609.2" stroke="#333" stroke-width="0.8"/>
<text x="337.5" y="621.0" font-size="8.8" text-anchor="middle" fill="#222"  >5A</text>
<line x1="373" x2="373" y1="605.7" y2="609.2" stroke="#333" stroke-width="0.8"/>
<text x="373.0" y="621.0" font-size="8.8" text-anchor="middle" fill="#222"  >5B</text>
<line x1="409.4" x2="409.4" y1="605.7" y2="609.2" stroke="#333" stroke-width="0.8"/>
<text x="409.4" y="621.0" font-size="8.8" text-anchor="middle" fill="#222"  >6A</text>
<line x1="440.9" x2="440.9" y1="605.7" y2="609.2" stroke="#333" stroke-width="0.8"/>
<text x="440.9" y="621.0" font-size="8.8" text-anchor="middle" fill="#222"  >6B</text>
<line x1="470.1" x2="470.1" y1="605.7" y2="609.2" stroke="#333" stroke-width="0.8"/>
<text x="470.1" y="621.0" font-size="8.8" text-anchor="middle" fill="#222"  >7A</text>
<line x1="498.9" x2="498.9" y1="605.7" y2="609.2" stroke="#333" stroke-width="0.8"/>
<text x="498.9" y="621.0" font-size="8.8" text-anchor="middle" fill="#222"  >7B</text>
<line x1="530.3" x2="530.3" y1="605.7" y2="609.2" stroke="#333" stroke-width="0.8"/>
<text x="530.3" y="621.0" font-size="8.8" text-anchor="middle" fill="#222"  >8A</text>
<line x1="560" x2="560" y1="605.7" y2="609.2" stroke="#333" stroke-width="0.8"/>
<text x="560.0" y="621.0" font-size="8.8" text-anchor="middle" fill="#222"  >8B</text>
<text x="44.5" y="621.0" font-size="8.8" text-anchor="middle" fill="#222"  >Chr</text>
<text x="0.0" y="0.0" font-size="12.3" text-anchor="middle" fill="#111"  transform="translate(16 564.5) rotate(-90)">XPCLR</text>
<circle cx="49.7" cy="561.9" r="2.1" fill="#ef8433"/>
<circle cx="110.4" cy="555.1" r="2.1" fill="#ef8433"/>
<circle cx="112.3" cy="554.8" r="2.1" fill="#ef8433"/>
<circle cx="153" cy="558.5" r="2.1" fill="#ef8433"/>
<circle cx="203.5" cy="552.2" r="2.1" fill="#ef8433"/>
<circle cx="223.3" cy="553" r="2.1" fill="#ef8433"/>
<circle cx="245.7" cy="552.2" r="2.1" fill="#ef8433"/>
<circle cx="359.6" cy="555.4" r="2.1" fill="#ef8433"/>
<circle cx="396.9" cy="551.8" r="2.1" fill="#ef8433"/>
<circle cx="392.4" cy="559" r="2.1" fill="#ef8433"/>
<circle cx="526.3" cy="555.4" r="2.1" fill="#ef8433"/>
<circle cx="554.2" cy="559" r="2.1" fill="#ef8433"/>
<text x="53.5" y="558.9" font-size="9.2" text-anchor="start" fill="#111" font-style="italic" >FPA</text>
<text x="87.2" y="551.7" font-size="9.2" text-anchor="start" fill="#111" font-style="italic" >SOC1</text>
<text x="113.8" y="547.5" font-size="9.2" text-anchor="start" fill="#111" font-style="italic" >ASIL2</text>
<text x="147.5" y="552.5" font-size="9.2" text-anchor="start" fill="#111" font-style="italic" >WRKY3</text>
<text x="177.0" y="545.0" font-size="9.2" text-anchor="start" fill="#111" font-style="italic" >HSF_A8</text>
<text x="220.4" y="537.8" font-size="9.2" text-anchor="start" fill="#111" font-style="italic" >Q7GT</text>
<text x="220.4" y="547.1" font-size="9.2" text-anchor="start" fill="#111" font-style="italic" >Q3GT</text>
<text x="249.9" y="550.9" font-size="9.2" text-anchor="start" fill="#111" font-style="italic" >CHS</text>
<text x="328.1" y="553.4" font-size="9.2" text-anchor="start" fill="#111" font-style="italic" >DREB2F</text>
<text x="400.4" y="548.9" font-size="9.2" text-anchor="start" fill="#111" font-style="italic" >HSP20</text>
<text x="397.8" y="558.8" font-size="9.2" text-anchor="start" fill="#111" font-style="italic" >ERF114</text>
<text x="524.0" y="551.2" font-size="9.2" text-anchor="start" fill="#111" font-style="italic" >CO16</text>
<text x="557.8" y="559.2" font-size="9.2" text-anchor="start" fill="#111" font-style="italic" >ELF3</text>
<text x="645.5" y="503.9" font-size="10" text-anchor="middle" fill="#141414"  >P value</text>
<text x="684.2" y="503.9" font-size="10" text-anchor="middle" fill="#141414"  >Count</text>
<rect x="622" y="511.4" width="47.1" height="8.9" fill="#e8706a"/>
<line x1="645" x2="645" y1="511.4" y2="513.2" stroke="#333" stroke-width="0.5"/><line x1="645" x2="645" y1="518.5" y2="520.3" stroke="#333" stroke-width="0.5"/>
<circle cx="685.1" cy="516.9" r="6.1" fill="#000"/>
<text x="696.0" y="519.4" font-size="9.8" text-anchor="start" fill="#141414"  >8</text>
<text x="644.2" y="533.0" font-size="10.2" text-anchor="middle" fill="#141414"  >2.22e-11</text>
<rect x="624.5" y="538.2" width="74.1" height="70.4" fill="#ebebeb"/>
<line x1="644.9" x2="644.9" y1="538.2" y2="608.6" stroke="#fff" stroke-width="0.8"/>
<line x1="688.0" x2="688.0" y1="538.2" y2="608.6" stroke="#fff" stroke-width="0.8"/>
<line x1="624.5" x2="698.6" y1="556.3" y2="556.3" stroke="#fff" stroke-width="0.8"/>
<line x1="624.5" x2="698.6" y1="591.7" y2="591.7" stroke="#fff" stroke-width="0.8"/>
<line x1="666.4" x2="666.4" y1="538.2" y2="608.6" stroke="#f3f3f3" stroke-width="0.5"/>
<circle cx="662.9" cy="556.3" r="5.8" fill="#e8706a"/>
<line x1="622.3" x2="624.5" y1="556.3" y2="556.3" stroke="#444" stroke-width="0.7"/>
<circle cx="662.9" cy="591.7" r="5.8" fill="#e8706a"/>
<line x1="622.3" x2="624.5" y1="591.7" y2="591.7" stroke="#444" stroke-width="0.7"/>
<text x="619.7" y="559.9" font-size="10.3" text-anchor="end" fill="#141414" font-style="italic" >Q7GT</text>
<text x="619.7" y="595.3" font-size="10.3" text-anchor="end" fill="#141414" font-style="italic" >Q3GT</text>
<line x1="644.9" x2="644.9" y1="608.6" y2="611.2" stroke="#444" stroke-width="0.7"/>
<line x1="688.0" x2="688.0" y1="608.6" y2="611.2" stroke="#444" stroke-width="0.7"/>
<text x="644.4" y="622.3" font-size="10.2" text-anchor="middle" fill="#333"  >0.06665</text>
<text x="688.0" y="622.3" font-size="10.2" text-anchor="middle" fill="#333"  >0.06669</text>
</svg></body></html>
